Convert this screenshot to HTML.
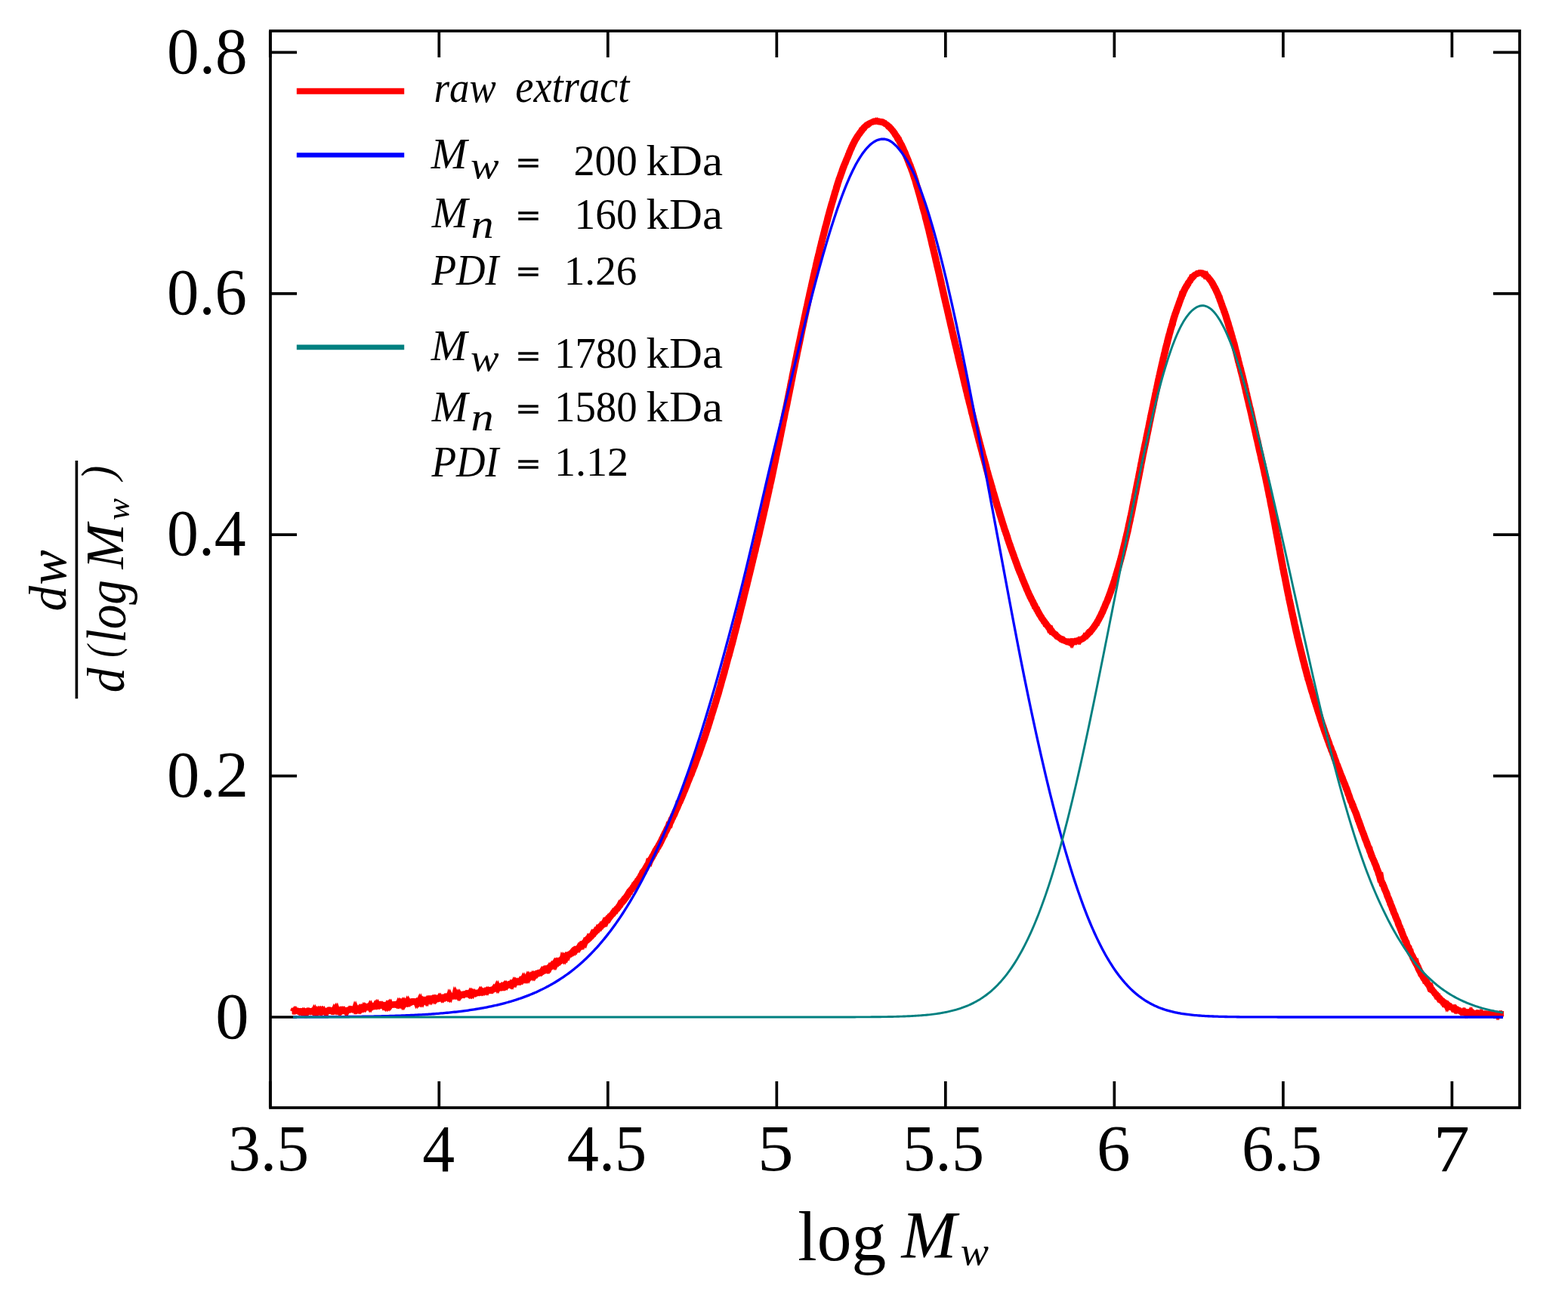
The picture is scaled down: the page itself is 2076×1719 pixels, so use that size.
<!DOCTYPE html>
<html lang="en">
<head>
<meta charset="utf-8">
<title>Molar mass distribution: raw extract</title>
<style>html,body{margin:0;padding:0;background:#fff;}body{width:2076px;height:1719px;overflow:hidden;}svg{display:block;}</style>
</head>
<body>
<svg width="2076" height="1719" viewBox="0 0 2076 1719" font-family="'Liberation Serif', serif" fill="#000">
<rect x="0" y="0" width="2076" height="1719" fill="#fff"/>
<g>
<g stroke="#000" stroke-width="3.7" fill="none" stroke-linecap="butt">
<path d="M357.78 1467.0V1432M357.78 41.0V76M581.3 1467.0V1432M581.3 41.0V76M804.81 1467.0V1432M804.81 41.0V76M1028.33 1467.0V1432M1028.33 41.0V76M1251.84 1467.0V1432M1251.84 41.0V76M1475.36 1467.0V1432M1475.36 41.0V76M1698.87 1467.0V1432M1698.87 41.0V76M1922.39 1467.0V1432M1922.39 41.0V76M358.0 1347H393M1977 1347H1989.5M358.0 1027.6H393M2012.0 1027.6H1977M358.0 708.2H393M2012.0 708.2H1977M358.0 388.8H393M2012.0 388.8H1977M358.0 69.4H393M2012.0 69.4H1977"/>
</g>
<rect x="358.0" y="41.0" width="1654.0" height="1426.0" fill="none" stroke="#000" stroke-width="3.7"/>
<path d="M386.5 1339.83 L387 1339.81 L387.5 1339.8 L388 1338.66 L388.5 1338.76 L389 1338.93 L389.5 1338.3 L390 1339.1 L390.5 1338.93 L391 1340.66 L391.5 1339.47 L392 1339.26 L392.5 1339.31 L393 1339.16 L393.5 1339.01 L394 1339.27 L394.5 1339.62 L395 1339.32 L395.5 1339.78 L396 1339.3 L396.5 1339.35 L397 1339.93 L397.5 1339.49 L398 1339.03 L398.5 1339.13 L399 1339.39 L399.5 1339.94 L400 1339.07 L400.5 1339.1 L401 1339.64 L401.5 1338.95 L402 1339.26 L402.5 1339.82 L403 1339.8 L403.5 1339.7 L404 1340.01 L404.5 1338.67 L405 1340.24 L405.5 1339.44 L406 1339.12 L406.5 1339.83 L407 1339.9 L407.5 1339.34 L408 1338.99 L408.5 1339.33 L409 1339.22 L409.5 1339.74 L410 1339.44 L410.5 1339.2 L411 1339.57 L411.5 1339.09 L412 1338.86 L412.5 1339.56 L413 1339.69 L413.5 1339.5 L414 1339.41 L414.5 1339.92 L415 1338.91 L415.5 1340.23 L416 1340.17 L416.5 1339.32 L417 1340 L417.5 1339.59 L418 1340.28 L418.5 1339.16 L419 1339.58 L419.5 1340.17 L420 1340.25 L420.5 1338.8 L421 1339.3 L421.5 1339.46 L422 1336.47 L422.5 1339.65 L423 1338.44 L423.5 1338.99 L424 1338.4 L424.5 1339.41 L425 1338.89 L425.5 1338.83 L426 1338.4 L426.5 1339.89 L427 1339.66 L427.5 1339.8 L428 1340.1 L428.5 1339.9 L429 1339.6 L429.5 1339.58 L430 1339.57 L430.5 1340.36 L431 1339.1 L431.5 1339.26 L432 1339.16 L432.5 1339.15 L433 1339.08 L433.5 1338.18 L434 1337.87 L434.5 1338.49 L435 1338.97 L435.5 1338.83 L436 1338.67 L436.5 1338.51 L437 1338.79 L437.5 1338.56 L438 1338.91 L438.5 1338.14 L439 1338.34 L439.5 1338.07 L440 1338.18 L440.5 1337.95 L441 1338.83 L441.5 1338.42 L442 1338.48 L442.5 1337.14 L443 1337.9 L443.5 1337.86 L444 1338.36 L444.5 1337.26 L445 1338.66 L445.5 1338.64 L446 1337.73 L446.5 1337.91 L447 1338.04 L447.5 1338.44 L448 1338.73 L448.5 1339.31 L449 1338.39 L449.5 1338.73 L450 1338.39 L450.5 1338.93 L451 1338.4 L451.5 1338.52 L452 1337.43 L452.5 1337.69 L453 1337.38 L453.5 1338.27 L454 1337.93 L454.5 1337.59 L455 1337.6 L455.5 1338.06 L456 1337.68 L456.5 1337.68 L457 1338.31 L457.5 1339.15 L458 1338.07 L458.5 1337.92 L459 1337.61 L459.5 1337.45 L460 1338.09 L460.5 1338.11 L461 1337.66 L461.5 1337.68 L462 1337.5 L462.5 1337.42 L463 1336.67 L463.5 1337.02 L464 1337.15 L464.5 1336.7 L465 1336.71 L465.5 1336.46 L466 1336.55 L466.5 1336.94 L467 1336.37 L467.5 1336.43 L468 1336.8 L468.5 1336.73 L469 1337.16 L469.5 1335.65 L470 1336.83 L470.5 1336.27 L471 1336.49 L471.5 1336.72 L472 1336.78 L472.5 1336.72 L473 1336.34 L473.5 1336.89 L474 1336.1 L474.5 1336.1 L475 1336.41 L475.5 1335.76 L476 1336.7 L476.5 1336.07 L477 1336.33 L477.5 1335.23 L478 1334.87 L478.5 1334.88 L479 1334.92 L479.5 1334.21 L480 1334.45 L480.5 1334.17 L481 1334.72 L481.5 1333.72 L482 1334.31 L482.5 1333.54 L483 1333.3 L483.5 1333.28 L484 1332.98 L484.5 1333.4 L485 1333.67 L485.5 1333.27 L486 1333.42 L486.5 1333.8 L487 1333.25 L487.5 1333.2 L488 1333 L488.5 1332.44 L489 1333.36 L489.5 1332.33 L490 1333.28 L490.5 1333.01 L491 1333.45 L491.5 1332.95 L492 1332.6 L492.5 1332.99 L493 1332.52 L493.5 1332.56 L494 1332.53 L494.5 1332.35 L495 1332.24 L495.5 1331.91 L496 1332.1 L496.5 1331.26 L497 1332 L497.5 1331.53 L498 1332.41 L498.5 1332.42 L499 1331.09 L499.5 1331.9 L500 1331.78 L500.5 1331.4 L501 1332.03 L501.5 1331.63 L502 1331.1 L502.5 1331.69 L503 1331.73 L503.5 1331.81 L504 1331.24 L504.5 1331.93 L505 1331.94 L505.5 1331.15 L506 1331.31 L506.5 1331.52 L507 1331.31 L507.5 1332.23 L508 1331.61 L508.5 1331.11 L509 1331.16 L509.5 1331.41 L510 1332.27 L510.5 1331.18 L511 1331.18 L511.5 1331.19 L512 1330.82 L512.5 1331.61 L513 1330.37 L513.5 1330.8 L514 1330.52 L514.5 1330.69 L515 1329.99 L515.5 1331.2 L516 1330.48 L516.5 1330.58 L517 1330.21 L517.5 1330.3 L518 1330.79 L518.5 1330.93 L519 1330.78 L519.5 1330.91 L520 1330.65 L520.5 1330.33 L521 1330.62 L521.5 1330.5 L522 1330.19 L522.5 1330.5 L523 1330.7 L523.5 1330.25 L524 1329.97 L524.5 1330.35 L525 1330.76 L525.5 1329.84 L526 1329.8 L526.5 1329.67 L527 1330.09 L527.5 1328.74 L528 1329.48 L528.5 1329.68 L529 1328.77 L529.5 1329.6 L530 1329.17 L530.5 1328.71 L531 1329.03 L531.5 1328.38 L532 1328.83 L532.5 1329.85 L533 1328.82 L533.5 1329.95 L534 1329.19 L534.5 1329.6 L535 1329.18 L535.5 1328.2 L536 1328.79 L536.5 1329.01 L537 1328.38 L537.5 1328.2 L538 1328.79 L538.5 1328.27 L539 1327.05 L539.5 1327.99 L540 1328.45 L540.5 1327.74 L541 1328.12 L541.5 1328.17 L542 1327.38 L542.5 1326.73 L543 1326.49 L543.5 1326.83 L544 1327.05 L544.5 1326.67 L545 1326.68 L545.5 1326.23 L546 1326.5 L546.5 1326.2 L547 1326.32 L547.5 1326.01 L548 1325.99 L548.5 1326.52 L549 1326.34 L549.5 1326.45 L550 1327.13 L550.5 1326.82 L551 1328.02 L551.5 1327.2 L552 1326.54 L552.5 1327.06 L553 1326.83 L553.5 1326.33 L554 1326.95 L554.5 1326.08 L555 1325.02 L555.5 1326.41 L556 1325.69 L556.5 1326.39 L557 1325.4 L557.5 1325.08 L558 1326.08 L558.5 1324.96 L559 1325.43 L559.5 1325.92 L560 1325.39 L560.5 1325.34 L561 1325.43 L561.5 1325.75 L562 1325.08 L562.5 1325.61 L563 1325.52 L563.5 1326.11 L564 1324.89 L564.5 1324.46 L565 1324.91 L565.5 1324.23 L566 1324.28 L566.5 1324 L567 1324.22 L567.5 1323.32 L568 1319.05 L568.5 1322.34 L569 1322.94 L569.5 1323.87 L570 1322.96 L570.5 1322.94 L571 1322.74 L571.5 1323.48 L572 1323.34 L572.5 1322.81 L573 1323.57 L573.5 1323.4 L574 1323.56 L574.5 1322.95 L575 1323.82 L575.5 1323.19 L576 1322.87 L576.5 1322.6 L577 1322.6 L577.5 1322.93 L578 1322.37 L578.5 1322.82 L579 1322.55 L579.5 1322.79 L580 1322.54 L580.5 1322.17 L581 1321.43 L581.5 1322.31 L582 1322.52 L582.5 1322.27 L583 1322.41 L583.5 1321.97 L584 1321.95 L584.5 1321.65 L585 1322.45 L585.5 1321.82 L586 1321.4 L586.5 1320.91 L587 1321.24 L587.5 1321.77 L588 1321.32 L588.5 1320.82 L589 1321.69 L589.5 1321.7 L590 1321.54 L590.5 1321.44 L591 1321.54 L591.5 1321.2 L592 1321.17 L592.5 1320.38 L593 1321.11 L593.5 1320.41 L594 1320.94 L594.5 1319.14 L595 1320.09 L595.5 1320.07 L596 1319.44 L596.5 1319.68 L597 1319.75 L597.5 1319.63 L598 1319.14 L598.5 1319.24 L599 1319.63 L599.5 1319.65 L600 1319.07 L600.5 1318.93 L601 1318.84 L601.5 1319.03 L602 1316.82 L602.5 1317.79 L603 1318.25 L603.5 1317.67 L604 1317.82 L604.5 1318.07 L605 1318.23 L605.5 1317.61 L606 1318.38 L606.5 1317.35 L607 1318.26 L607.5 1317.37 L608 1317.43 L608.5 1318.11 L609 1317.57 L609.5 1317.27 L610 1317.26 L610.5 1317.46 L611 1317.1 L611.5 1316.96 L612 1317.27 L612.5 1316.45 L613 1316.46 L613.5 1316.37 L614 1316.98 L614.5 1316.84 L615 1316.89 L615.5 1316.28 L616 1316.16 L616.5 1316.49 L617 1315.95 L617.5 1316.41 L618 1316.38 L618.5 1315.85 L619 1316.17 L619.5 1316.23 L620 1317.05 L620.5 1317.44 L621 1316.39 L621.5 1316.42 L622 1315.44 L622.5 1316.36 L623 1316.17 L623.5 1315.64 L624 1316.28 L624.5 1315.26 L625 1315.74 L625.5 1315.84 L626 1315.26 L626.5 1316.09 L627 1316.15 L627.5 1315.16 L628 1315.12 L628.5 1315.88 L629 1315.55 L629.5 1314.97 L630 1315.21 L630.5 1315.12 L631 1314.92 L631.5 1315.1 L632 1314.71 L632.5 1315.04 L633 1314.65 L633.5 1314.16 L634 1314.12 L634.5 1314.04 L635 1313.65 L635.5 1312.76 L636 1313.5 L636.5 1313.13 L637 1313.71 L637.5 1313.06 L638 1313.2 L638.5 1313.07 L639 1313.54 L639.5 1312.86 L640 1312.57 L640.5 1312.68 L641 1312.24 L641.5 1312.32 L642 1312.08 L642.5 1312 L643 1312.48 L643.5 1311.38 L644 1311.43 L644.5 1311.25 L645 1311.55 L645.5 1310.82 L646 1311.05 L646.5 1311.37 L647 1311.67 L647.5 1311.48 L648 1311.31 L648.5 1311.15 L649 1311.64 L649.5 1311.91 L650 1311.32 L650.5 1311.1 L651 1311.01 L651.5 1310.25 L652 1310.29 L652.5 1310.07 L653 1310.05 L653.5 1309.65 L654 1308.89 L654.5 1309.52 L655 1309.43 L655.5 1308.33 L656 1308.3 L656.5 1307.96 L657 1307.91 L657.5 1306.78 L658 1307.82 L658.5 1306.82 L659 1307.38 L659.5 1306.81 L660 1306.57 L660.5 1306.66 L661 1307.1 L661.5 1306.46 L662 1306.73 L662.5 1306.77 L663 1306.33 L663.5 1307.56 L664 1307.25 L664.5 1306.94 L665 1307.3 L665.5 1306.3 L666 1306.46 L666.5 1306.97 L667 1306.45 L667.5 1304.95 L668 1304.3 L668.5 1305.01 L669 1305.66 L669.5 1304.87 L670 1304.8 L670.5 1304.96 L671 1304.19 L671.5 1304.48 L672 1304.57 L672.5 1304.33 L673 1304.21 L673.5 1303.74 L674 1304.13 L674.5 1303.69 L675 1304.29 L675.5 1304.68 L676 1303.18 L676.5 1302.4 L677 1302.84 L677.5 1302.88 L678 1302.85 L678.5 1302.55 L679 1301.5 L679.5 1301.21 L680 1301.77 L680.5 1300.61 L681 1301.3 L681.5 1300.65 L682 1300.97 L682.5 1300.9 L683 1300.92 L683.5 1300.93 L684 1300.19 L684.5 1300.67 L685 1300.48 L685.5 1300.49 L686 1300.7 L686.5 1299.91 L687 1299.51 L687.5 1299.26 L688 1299.16 L688.5 1299.32 L689 1298.42 L689.5 1298.94 L690 1298.32 L690.5 1297.85 L691 1297.16 L691.5 1297.56 L692 1297.52 L692.5 1296.34 L693 1297.33 L693.5 1297.33 L694 1296.62 L694.5 1296.51 L695 1297.11 L695.5 1296.48 L696 1295.48 L696.5 1295.69 L697 1295.49 L697.5 1295.33 L698 1294.25 L698.5 1295.28 L699 1294.47 L699.5 1294.5 L700 1294.09 L700.5 1294.2 L701 1293.45 L701.5 1293 L702 1293.3 L702.5 1293.45 L703 1292.58 L703.5 1293.09 L704 1292.48 L704.5 1292.01 L705 1292.66 L705.5 1291.55 L706 1292.08 L706.5 1291.26 L707 1291.4 L707.5 1290.46 L708 1290.34 L708.5 1290.8 L709 1290.15 L709.5 1289.79 L710 1289.31 L710.5 1289.38 L711 1288.38 L711.5 1288.25 L712 1288.42 L712.5 1287.96 L713 1287.85 L713.5 1287.96 L714 1287.79 L714.5 1287.62 L715 1288.2 L715.5 1287.73 L716 1287.56 L716.5 1286.75 L717 1286.21 L717.5 1285.47 L718 1285.55 L718.5 1284.52 L719 1284.82 L719.5 1285.1 L720 1285.22 L720.5 1284.78 L721 1283.88 L721.5 1284.28 L722 1283.64 L722.5 1284.15 L723 1283.62 L723.5 1283.83 L724 1284.29 L724.5 1283.35 L725 1283.56 L725.5 1282.29 L726 1281.64 L726.5 1281.83 L727 1281.52 L727.5 1280.15 L728 1279.99 L728.5 1279 L729 1279.15 L729.5 1279.26 L730 1278.56 L730.5 1278.07 L731 1277.44 L731.5 1277.87 L732 1277.78 L732.5 1277.45 L733 1277.09 L733.5 1276.27 L734 1277.29 L734.5 1276.36 L735 1276.11 L735.5 1276.22 L736 1274.81 L736.5 1275.36 L737 1275.03 L737.5 1274.92 L738 1274.99 L738.5 1274.32 L739 1273.07 L739.5 1273.34 L740 1273.22 L740.5 1272.85 L741 1271.93 L741.5 1271.44 L742 1271.98 L742.5 1271.58 L743 1271.12 L743.5 1270.14 L744 1271.24 L744.5 1269.06 L745 1269.74 L745.5 1270.36 L746 1269.07 L746.5 1268.8 L747 1267.81 L747.5 1268.39 L748 1266.92 L748.5 1267.15 L749 1266.76 L749.5 1265.97 L750 1266.46 L750.5 1265.26 L751 1265.26 L751.5 1265.22 L752 1264.73 L752.5 1264.72 L753 1264.52 L753.5 1263.64 L754 1263.14 L754.5 1262.77 L755 1262.45 L755.5 1262.55 L756 1261.77 L756.5 1261.65 L757 1261.07 L757.5 1260.38 L758 1260.67 L758.5 1259.51 L759 1259.53 L759.5 1259.73 L760 1258.31 L760.5 1258.36 L761 1257.41 L761.5 1257.53 L762 1256.85 L762.5 1257.03 L763 1256.69 L763.5 1256.68 L764 1256.95 L764.5 1256.08 L765 1255.83 L765.5 1255.12 L766 1254.58 L766.5 1253.87 L767 1252.99 L767.5 1253.24 L768 1253.37 L768.5 1252.42 L769 1251.54 L769.5 1251.96 L770 1250.69 L770.5 1250.19 L771 1249.55 L771.5 1249.26 L772 1249.14 L772.5 1249.62 L773.01 1248.29 L773.51 1247.48 L774.01 1247.12 L774.52 1246.72 L775.02 1245.54 L775.52 1245.69 L776.03 1245.34 L776.53 1244.63 L777.04 1244.23 L777.54 1243 L778.05 1242.41 L778.55 1243.22 L779.06 1242.77 L779.57 1241.35 L780.07 1241.65 L780.58 1241.16 L781.09 1240.9 L781.59 1240.25 L782.1 1239.42 L782.61 1239.12 L783.12 1238.52 L783.63 1237.86 L784.14 1236.58 L784.65 1235.57 L785.16 1235.88 L785.67 1234.99 L786.18 1235.16 L786.69 1234.77 L787.2 1234.02 L787.71 1233.2 L788.22 1232.79 L788.73 1232.64 L789.24 1231.35 L789.75 1231.44 L790.26 1230.82 L790.78 1230.14 L791.29 1230.1 L791.8 1228.8 L792.31 1228.98 L792.83 1227.83 L793.34 1227.46 L793.85 1226.91 L794.37 1227.04 L794.88 1226.07 L795.4 1225.98 L795.91 1225.06 L796.42 1225.4 L796.94 1225.2 L797.45 1224.11 L797.97 1224.12 L798.48 1223.19 L799 1223.24 L799.51 1221.93 L800.03 1220.77 L800.54 1221.32 L801.06 1220.18 L801.57 1219.3 L802.09 1218.92 L802.61 1218.06 L803.12 1218.09 L803.64 1217.27 L804.15 1217.69 L804.67 1216.87 L805.19 1215.5 L805.7 1214.98 L806.22 1214.71 L806.74 1213.6 L807.25 1213.6 L807.77 1212.96 L808.29 1212.05 L808.8 1211.48 L809.32 1211.2 L809.84 1210.88 L810.36 1210.26 L810.87 1209.12 L811.39 1208.79 L811.91 1207.63 L812.42 1207.44 L812.94 1206.4 L813.46 1206.45 L813.98 1205.26 L814.49 1204.85 L815.01 1204.68 L815.53 1204.37 L816.04 1203.16 L816.56 1202.89 L817.08 1202.5 L817.6 1201.87 L818.11 1200.79 L818.63 1200.35 L819.15 1199.45 L819.67 1199.23 L820.18 1198.17 L820.7 1196.8 L821.22 1195.79 L821.73 1195.89 L822.25 1195.62 L822.77 1194.69 L823.28 1194.34 L823.8 1193.3 L824.32 1192.42 L824.83 1192.49 L825.35 1191.63 L825.87 1191.16 L826.38 1189.82 L826.9 1189.65 L827.42 1188.7 L827.93 1188.46 L828.45 1187.31 L828.96 1186.56 L829.48 1185.8 L829.99 1185.59 L830.51 1184.38 L831.03 1183.31 L831.54 1182.4 L832.06 1181.59 L832.57 1181.6 L833.09 1179.82 L833.6 1179.41 L834.11 1179.17 L834.63 1178.66 L835.14 1177.58 L835.66 1177.21 L836.17 1176.54 L836.68 1175.94 L837.2 1174.98 L837.71 1174.78 L838.22 1173.65 L838.74 1173.36 L839.25 1171.88 L839.76 1171.81 L840.27 1170.49 L840.79 1169.77 L841.3 1169.73 L841.81 1168.7 L842.32 1168.43 L842.83 1167.31 L843.34 1167.39 L843.85 1166.18 L844.36 1165.05 L844.87 1164.61 L845.38 1163.95 L845.89 1162.57 L846.4 1162.04 L846.91 1161.58 L847.42 1160.35 L847.93 1159.23 L848.44 1158.24 L848.95 1157.77 L849.45 1156.4 L849.96 1155.21 L850.47 1155.15 L850.98 1154.29 L851.48 1154.34 L851.99 1153.11 L852.49 1151.99 L853 1151.09 L853.51 1150.67 L854.01 1149.37 L854.52 1148.49 L855.02 1147.67 L855.53 1146.76 L856.03 1145.83 L856.54 1144.93 L857.04 1144.39 L857.55 1143.65 L858.05 1141.9 L858.56 1142.23 L859.07 1140.74 L859.57 1140.22 L860.08 1138.84 L860.58 1138.28 L861.09 1137.39 L861.59 1136.49 L862.1 1135.8 L862.6 1134.85 L863.11 1133.52 L863.61 1132.85 L864.12 1132.16 L864.62 1131.23 L865.13 1130.06 L865.63 1129.17 L866.14 1128.3 L866.64 1127.15 L867.15 1126.21 L867.66 1126.06 L868.16 1124.68 L868.67 1123.93 L869.17 1122.86 L869.68 1122.53 L870.18 1121.8 L870.69 1120.45 L871.19 1119.78 L871.7 1118.58 L872.2 1118.3 L872.71 1117.16 L873.21 1115.77 L873.72 1115.31 L874.22 1114.1 L874.73 1113.11 L875.23 1112.09 L875.74 1110.82 L876.24 1109.83 L876.74 1109.08 L877.25 1107.88 L877.75 1106.61 L878.26 1106.28 L878.76 1104.71 L879.27 1103.59 L879.77 1102.54 L880.28 1101.86 L880.78 1100.94 L881.29 1099.78 L881.79 1098.95 L882.3 1097.42 L882.8 1096.7 L883.3 1095.67 L883.81 1094.77 L884.31 1093.85 L884.82 1092.22 L885.32 1092.34 L885.83 1090.38 L886.33 1089.59 L886.83 1088.65 L887.34 1087.61 L887.84 1086.44 L888.35 1084.72 L888.85 1084.1 L889.35 1083.49 L889.86 1082.09 L890.36 1081.02 L890.87 1079.67 L891.37 1079.36 L891.87 1078.09 L892.38 1076.65 L892.88 1075.66 L893.38 1074.5 L893.89 1073.11 L894.39 1072.12 L894.89 1071.06 L895.4 1069.96 L895.9 1068.97 L896.4 1067.57 L896.91 1066.35 L897.41 1065.43 L897.91 1062.99 L898.42 1062.91 L898.92 1062.3 L899.42 1060.89 L899.93 1059.87 L900.43 1058.83 L900.93 1057.31 L901.43 1056.48 L901.94 1055.25 L902.44 1053.95 L902.94 1052.85 L903.45 1051.42 L903.95 1049.93 L904.45 1049.11 L904.95 1047.77 L905.46 1046.9 L905.96 1045.52 L906.46 1044.09 L906.96 1042.91 L907.46 1041.87 L907.97 1040.51 L908.47 1039.04 L908.97 1037.76 L909.47 1036.35 L909.97 1035.14 L910.48 1034.07 L910.98 1032.75 L911.48 1031.66 L911.98 1030.2 L912.48 1028.91 L912.98 1027.71 L913.49 1026.74 L913.99 1025.84 L914.49 1024.54 L914.99 1022.82 L915.49 1021.4 L915.99 1020.57 L916.49 1019.19 L916.99 1017.51 L917.49 1016.69 L918 1015.2 L918.5 1014.1 L919 1012.57 L919.5 1011.33 L920 1009.86 L920.5 1008.24 L921 1007.02 L921.5 1005.57 L922 1004.51 L922.5 1002.8 L923 1001.35 L923.5 1000.45 L924 999.2 L924.5 997.91 L925 996.47 L925.5 994.57 L925.99 993.34 L926.49 991.96 L926.99 990.64 L927.49 988.78 L927.98 987.77 L928.48 986.38 L928.98 984.69 L929.47 983.46 L929.97 982.24 L930.46 980.57 L930.96 979.34 L931.45 977.88 L931.94 976.31 L932.44 974.84 L932.93 973.21 L933.42 972.04 L933.92 970.18 L934.41 968.6 L934.9 967.34 L935.39 965.51 L935.88 964.18 L936.38 962.76 L936.87 961.02 L937.36 959.49 L937.85 958.11 L938.34 956.54 L938.83 954.53 L939.32 953.02 L939.81 951.98 L940.3 950.21 L940.79 948.13 L941.28 946.68 L941.77 945.36 L942.26 943.56 L942.74 942.25 L943.23 940.58 L943.72 939.08 L944.21 937.16 L944.7 935.94 L945.19 934.64 L945.67 932.51 L946.16 931.36 L946.65 929.72 L947.14 928.07 L947.63 926.34 L948.11 924.52 L948.6 922.95 L949.09 921.63 L949.58 920.01 L950.06 918.37 L950.55 916.61 L951.04 914.89 L951.53 912.91 L952.01 911.04 L952.5 909.6 L952.99 907.94 L953.47 906.14 L953.96 904.1 L954.45 902.57 L954.94 900.66 L955.42 899.26 L955.91 897.29 L956.4 895.73 L956.89 894.08 L957.37 892.27 L957.86 890.72 L958.35 888.41 L958.84 886.55 L959.33 885.11 L959.81 883.34 L960.3 881.49 L960.79 879.42 L961.28 877.66 L961.77 875.8 L962.26 873.78 L962.74 872.21 L963.23 870.72 L963.72 868.8 L964.21 867.58 L964.7 865.15 L965.19 863.6 L965.68 862.11 L966.17 859.94 L966.66 857.99 L967.15 856.1 L967.64 854.37 L968.13 852.96 L968.62 850.87 L969.12 849.02 L969.61 846.93 L970.1 845.3 L970.59 843.24 L971.08 841.11 L971.58 839.27 L972.07 837.47 L972.56 835.74 L973.06 833.58 L973.55 831.79 L974.04 830.19 L974.54 827.73 L975.03 825.74 L975.53 824.26 L976.02 822.21 L976.52 820.13 L977.02 818.2 L977.51 816.06 L978.01 814.19 L978.51 811.97 L979.01 810.17 L979.5 807.77 L980 805.85 L980.5 804.06 L981 801.98 L981.5 800.25 L982 798.12 L982.5 796.01 L983 794.13 L983.51 791.92 L984.01 789.63 L984.52 787.62 L985.02 785.57 L985.53 783.52 L986.03 781.52 L986.54 779.58 L987.05 777.41 L987.56 775.57 L988.07 773.39 L988.58 771.03 L989.09 769.32 L989.6 767.15 L990.11 764.75 L990.63 762.83 L991.14 760.91 L991.65 758.65 L992.17 756.71 L992.68 754.48 L993.2 752.43 L993.71 750.1 L994.23 748.1 L994.75 745.8 L995.26 743.85 L995.78 741.2 L996.3 739.43 L996.82 737.43 L997.34 735.11 L997.85 732.81 L998.37 730.75 L998.89 729.39 L999.41 726.16 L999.93 724.11 L1000.45 722.02 L1000.97 720.11 L1001.49 717.59 L1002.01 715.81 L1002.53 713.12 L1003.05 711.08 L1003.57 709.01 L1004.09 707.02 L1004.61 704.43 L1005.13 701.88 L1005.65 700.14 L1006.17 697.8 L1006.69 695.32 L1007.21 693.05 L1007.73 690.84 L1008.25 688.7 L1008.77 686.51 L1009.29 683.76 L1009.81 682.19 L1010.33 679.4 L1010.85 677.02 L1011.36 674.92 L1011.88 672.5 L1012.4 670.65 L1012.92 668.1 L1013.44 665.51 L1013.95 663.19 L1014.47 660.85 L1014.99 658.54 L1015.5 656.39 L1016.02 653.78 L1016.53 651.88 L1017.05 649.2 L1017.56 644.99 L1018.07 644.77 L1018.59 641.89 L1019.1 639.8 L1019.61 637.81 L1020.12 635.39 L1020.63 633.06 L1021.14 630.78 L1021.65 628.2 L1022.16 625.87 L1022.67 623.19 L1023.17 620.62 L1023.68 618.77 L1024.18 615.84 L1024.69 613.41 L1025.19 611.36 L1025.7 608.84 L1026.2 606.09 L1026.7 603.67 L1027.2 601.36 L1027.7 598.79 L1028.2 596.7 L1028.7 594.24 L1029.2 591.86 L1029.7 589.6 L1030.19 587.22 L1030.69 585.07 L1031.19 582.62 L1031.69 579.59 L1032.18 577.71 L1032.68 574.89 L1033.17 572.38 L1033.67 570.35 L1034.17 567.58 L1034.66 565.16 L1035.16 562.94 L1035.65 560.1 L1036.15 557.56 L1036.64 555.34 L1037.13 553.09 L1037.63 550.54 L1038.12 547.74 L1038.62 545.55 L1039.11 543.3 L1039.6 541.36 L1040.09 538.78 L1040.59 536.39 L1041.08 534.05 L1041.57 531.33 L1042.07 529.07 L1042.56 526.64 L1043.05 523.91 L1043.54 521.67 L1044.03 519.35 L1044.53 516.57 L1045.02 514.49 L1045.51 512.02 L1046 509.59 L1046.49 506.75 L1046.98 504.44 L1047.48 502.22 L1047.97 499.61 L1048.46 496.83 L1048.95 494.57 L1049.44 492.36 L1049.93 489.64 L1050.43 487.32 L1050.92 485.36 L1051.41 482.46 L1051.9 480.08 L1052.39 477.53 L1052.88 475.23 L1053.38 473.27 L1053.87 470.55 L1054.36 467.94 L1054.85 465.59 L1055.34 463.39 L1055.84 461.15 L1056.33 458.48 L1056.82 456.41 L1057.31 453.82 L1057.81 451.63 L1058.3 449.3 L1058.79 446.95 L1059.29 444.37 L1059.78 442.03 L1060.27 439.79 L1060.77 437.05 L1061.26 434.98 L1061.75 432.7 L1062.25 430.47 L1062.74 427.92 L1063.23 425.57 L1063.73 423.31 L1064.22 420.82 L1064.71 418.62 L1065.21 416.44 L1065.7 414.12 L1066.19 411.57 L1066.69 409.42 L1067.18 406.78 L1067.67 405.07 L1068.17 402.5 L1068.66 400.34 L1069.15 397.76 L1069.65 395.66 L1070.14 393.48 L1070.63 391.32 L1071.13 388.6 L1071.62 386.8 L1072.11 384.38 L1072.61 382.04 L1073.1 380.08 L1073.59 377.71 L1074.09 375.5 L1074.58 373.21 L1075.07 371.19 L1075.57 368.95 L1076.06 366.71 L1076.55 364.36 L1077.05 362.25 L1077.54 360.23 L1078.03 358.2 L1078.53 355.73 L1079.02 353.83 L1079.51 351.36 L1080.01 348.99 L1080.5 347.2 L1080.99 344.77 L1081.48 342.96 L1081.98 341.03 L1082.47 338.7 L1082.96 336.69 L1083.46 335.16 L1083.95 332.68 L1084.44 330.65 L1084.94 328.73 L1085.43 326.54 L1085.92 324.54 L1086.41 322.64 L1086.91 320.11 L1087.4 318.9 L1087.89 316.44 L1088.38 314.5 L1088.88 312.89 L1089.37 310.86 L1089.86 308.69 L1090.36 307.06 L1090.85 304.88 L1091.34 303.05 L1091.83 300.97 L1092.32 299.18 L1092.82 297.51 L1093.31 295.54 L1093.8 293.67 L1094.29 291.88 L1094.79 289.79 L1095.28 287.78 L1095.77 285.99 L1096.26 284.52 L1096.75 282.36 L1097.25 280.61 L1097.74 278.74 L1098.23 277.05 L1098.72 275.35 L1099.21 273.54 L1099.7 271.81 L1100.19 270 L1100.69 268.3 L1101.18 266.87 L1101.67 265.26 L1102.16 263.61 L1102.65 261.74 L1103.14 259.87 L1103.63 258.47 L1104.12 256.78 L1104.62 254.68 L1105.11 253.47 L1105.6 251.78 L1106.09 250.35 L1106.58 248.17 L1107.07 246.53 L1107.56 245.35 L1108.05 243.26 L1108.54 241.92 L1109.03 240.31 L1109.52 238.83 L1110.01 237.17 L1110.5 236.05 L1110.99 234.87 L1111.48 233.36 L1111.97 231.97 L1112.46 230.43 L1112.94 229.42 L1113.43 227.87 L1113.92 226.61 L1114.4 224.75 L1114.89 223.79 L1115.38 222.18 L1115.86 221.19 L1116.35 219.89 L1116.83 218.39 L1117.32 217.44 L1117.8 216.44 L1118.28 215.13 L1118.77 213.99 L1119.25 212.55 L1119.73 211.43 L1120.22 210.19 L1120.7 209.29 L1121.18 208.33 L1121.66 207.01 L1122.14 205.75 L1122.62 204.35 L1123.11 203.49 L1123.59 202.17 L1124.07 200.67 L1124.55 199.55 L1125.03 198.68 L1125.51 197.43 L1125.99 196.82 L1126.47 195.39 L1126.95 194.09 L1127.43 193.13 L1127.91 192.5 L1128.39 190.97 L1128.87 190.32 L1129.35 189.28 L1129.83 188.54 L1130.31 187.43 L1130.79 186.34 L1131.27 185.64 L1131.75 184.7 L1132.22 184.04 L1132.7 183.03 L1133.18 182.66 L1133.66 181.5 L1134.14 180.88 L1134.62 179.96 L1135.1 179.43 L1135.58 178.74 L1136.06 178.1 L1136.55 177.57 L1137.03 176.62 L1137.51 175.88 L1137.99 175.59 L1138.47 174.64 L1138.95 173.91 L1139.43 173.64 L1139.91 172.94 L1140.39 171.66 L1140.88 171.51 L1141.36 171.16 L1141.84 170.58 L1142.33 169.73 L1142.81 169.57 L1143.29 168.54 L1143.78 168.12 L1144.26 167.7 L1144.75 167.21 L1145.23 166.94 L1145.72 166.59 L1146.2 166 L1146.69 165.92 L1147.17 165.16 L1147.66 164.91 L1148.15 164.96 L1148.64 164.32 L1149.12 164.19 L1149.61 163.59 L1150.1 163.33 L1150.59 163.08 L1151.08 162.86 L1151.57 162.5 L1152.06 162.33 L1152.55 162.24 L1153.05 162.13 L1153.54 161.72 L1154.03 161.66 L1154.53 161.55 L1155.02 161.02 L1155.52 160.79 L1156.01 161.31 L1156.51 161.14 L1157.01 160.78 L1157.5 160.74 L1158 160.38 L1158.5 160.21 L1159 160.48 L1159.5 160.08 L1160 160.56 L1160.5 160.28 L1161 160.55 L1161.5 160.97 L1162 161.08 L1162.5 160.77 L1163 161.15 L1163.5 160.82 L1164 160.98 L1164.5 161.23 L1165 161.47 L1165.5 161.13 L1166 161.41 L1166.5 161.4 L1167 161.25 L1167.5 161.63 L1168 162.15 L1168.5 162.06 L1169 162.45 L1169.5 162.82 L1170 162.83 L1170.5 163.57 L1171 163.98 L1171.5 164.36 L1172 164.67 L1172.5 164.69 L1173 165.05 L1173.5 165.41 L1174 165.81 L1174.5 166.27 L1175 167.08 L1175.5 167.66 L1176 167.73 L1176.5 168.52 L1177 168.62 L1177.5 169.32 L1178 169.7 L1178.5 170.11 L1179 170.99 L1179.5 171.56 L1180 172.05 L1180.5 172.63 L1181 173.16 L1181.5 173.98 L1182 174.54 L1182.5 175.38 L1183 175.79 L1183.5 176.78 L1184 177.57 L1184.5 178.46 L1185 179.19 L1185.5 179.79 L1186 180.41 L1186.5 180.99 L1187 182.18 L1187.5 183.3 L1188 184.2 L1188.5 184.23 L1189 185.47 L1189.5 186.45 L1190 187.23 L1190.5 188.4 L1191 189.32 L1191.5 190.17 L1192 191.24 L1192.5 191.93 L1193 193.08 L1193.5 194.13 L1194 195.54 L1194.5 196.1 L1195 197.46 L1195.5 198.75 L1196 199.68 L1196.5 200.97 L1197 201.81 L1197.5 203.18 L1198 204.46 L1198.5 205.92 L1199 206.84 L1199.5 208.21 L1200 209.17 L1200.5 210.43 L1201 211.96 L1201.5 213.01 L1202 214.42 L1202.5 215.52 L1203 217.06 L1203.5 218.39 L1204 219.03 L1204.5 220.87 L1205 221.91 L1205.5 223.26 L1206 224.52 L1206.5 226.08 L1207 227.14 L1207.5 228.67 L1208 230.14 L1208.5 231.84 L1209 233.49 L1209.5 234.99 L1210 236.48 L1210.5 237.87 L1211 239.26 L1211.5 241.34 L1212 242.96 L1212.5 244.85 L1213 246.63 L1213.5 248.04 L1214 249.78 L1214.5 251.11 L1215 253.44 L1215.5 255.07 L1216 256.7 L1216.5 258.69 L1217 260.18 L1217.5 262.06 L1218 264.36 L1218.5 265.92 L1219 267.76 L1219.5 269.54 L1220 271.35 L1220.5 273.09 L1221 275.34 L1221.5 276.71 L1222 278.73 L1222.5 280.39 L1223 282.24 L1223.5 283.71 L1224 285.71 L1224.5 288.32 L1225 290.24 L1225.5 291.8 L1226 293.83 L1226.5 295.93 L1227 297.58 L1227.5 300.13 L1228 301.57 L1228.5 303.66 L1229 305.3 L1229.5 308.23 L1230 310.02 L1230.5 312.43 L1231 314.02 L1231.5 316.39 L1232 318.45 L1232.5 320.59 L1233 323.07 L1233.5 325.21 L1234 327.13 L1234.5 328.87 L1235 331.23 L1235.5 333.43 L1236 335.38 L1236.5 337.51 L1237 339.63 L1237.5 341.51 L1238 343.91 L1238.5 346.36 L1239 348.03 L1239.5 350.44 L1240 352.78 L1240.5 354.52 L1241 356.93 L1241.5 358.78 L1242 361.14 L1242.5 363.12 L1243 365.37 L1243.5 367.61 L1244 369.84 L1244.5 372.06 L1245 373.86 L1245.5 376.92 L1246 378.81 L1246.5 380.91 L1247 383.26 L1247.5 385.68 L1248 387.62 L1248.5 389.92 L1249 392.06 L1249.5 394.4 L1250 396.27 L1250.5 398.63 L1251 400.74 L1251.5 402.78 L1252 405.2 L1252.5 407.1 L1253 409 L1253.5 411.43 L1254 413.53 L1254.5 415.63 L1255 417.83 L1255.5 420.41 L1256 422.16 L1256.5 424.41 L1257 426.48 L1257.5 429.01 L1258 430.96 L1258.5 433 L1259 435.1 L1259.5 437.6 L1260 439.79 L1260.5 441.45 L1261 443.75 L1261.5 446.15 L1262 448.35 L1262.5 450.01 L1263 452.31 L1263.5 454.66 L1264 456.48 L1264.5 458.58 L1265 460.64 L1265.5 462.57 L1266 464.93 L1266.5 467.08 L1267 468.85 L1267.5 471.28 L1268 473.62 L1268.5 475.59 L1269 477.87 L1269.5 479.69 L1270 482.17 L1270.5 483.81 L1271 486.4 L1271.5 487.98 L1272 489.97 L1272.5 491.97 L1273 494.13 L1273.5 496.19 L1274 498.26 L1274.5 500.45 L1275 502.79 L1275.5 504.98 L1276 506.88 L1276.5 509.32 L1277 510.98 L1277.5 513.05 L1278 515.09 L1278.5 517.46 L1279 519.04 L1279.5 521.07 L1280 523.6 L1280.5 525.69 L1281 527.62 L1281.5 529.06 L1282 531.38 L1282.5 533.56 L1283 535.43 L1283.5 537.1 L1284 539.37 L1284.5 541.12 L1285 543.23 L1285.5 545.93 L1286 547.64 L1286.5 549.22 L1287 551.2 L1287.5 553.56 L1288 555.31 L1288.5 557.49 L1289 559.19 L1289.5 561.23 L1290 563.27 L1290.5 564.97 L1291 566.76 L1291.5 568.86 L1292 570.9 L1292.5 572.94 L1293 574.89 L1293.5 576.79 L1294 578.8 L1294.5 580.4 L1295 582.74 L1295.5 584.74 L1296 586.29 L1296.5 588.15 L1297 590.26 L1297.5 592.05 L1298 593.87 L1298.5 595.7 L1299 597.49 L1299.5 599.29 L1300 601.54 L1300.5 603.51 L1301 604.91 L1301.5 606.96 L1302 608.86 L1302.5 610.57 L1303 612.35 L1303.5 614.26 L1304 615.79 L1304.5 618.01 L1305 619.8 L1305.5 622.12 L1306 623.71 L1306.5 625.28 L1307 627.15 L1307.5 629.29 L1308 631.04 L1308.5 632.51 L1309 634.18 L1309.5 635.64 L1310 637.57 L1310.5 639.3 L1311 640.9 L1311.5 643.1 L1312 644.1 L1312.5 646.18 L1313 648.03 L1313.5 649.78 L1314 651.78 L1314.5 652.91 L1315 654.77 L1315.5 656.66 L1316 658.37 L1316.5 659.97 L1317 661.59 L1317.5 663.64 L1318 664.9 L1318.5 666.68 L1319 668.76 L1319.5 670.5 L1320 671.99 L1320.5 673.29 L1321 674.93 L1321.5 676.55 L1322 678.12 L1322.5 679.88 L1323 681.83 L1323.5 683.24 L1324 684.67 L1324.5 686.3 L1325 687.85 L1325.5 689.97 L1326 690.95 L1326.5 693.02 L1327 694.26 L1327.5 695.89 L1328 697.33 L1328.5 699.32 L1329 700.59 L1329.5 702.62 L1330 703.32 L1330.5 704.78 L1331 706.61 L1331.5 708.11 L1332 709.47 L1332.5 710.66 L1333 712.89 L1333.5 714.25 L1334 715.74 L1334.5 717.05 L1335 718.79 L1335.5 720.02 L1336 721.59 L1336.5 722.97 L1337 724.67 L1337.5 725.73 L1338 727.14 L1338.5 728.82 L1339 730.03 L1339.5 731.36 L1340 732.7 L1340.5 734.32 L1341 735.4 L1341.5 737.02 L1342 738.74 L1342.5 739.83 L1343 741.02 L1343.5 742.36 L1344 744.05 L1344.5 745.19 L1345 746.51 L1345.5 748.05 L1346 749.34 L1346.5 751.06 L1347 751.89 L1347.5 753.77 L1348 754.56 L1348.5 755.97 L1349 757.32 L1349.5 758.47 L1350 759.81 L1350.5 760.71 L1351 761.71 L1351.5 763.38 L1352 764.34 L1352.5 765.82 L1353 767.37 L1353.5 768.37 L1354 769.52 L1354.5 770.61 L1355 771.98 L1355.5 773.19 L1356 774.1 L1356.5 775.66 L1357 776.57 L1357.5 778 L1358 779.19 L1358.5 780.48 L1359 781.59 L1359.5 782.55 L1360 783.65 L1360.5 784.89 L1361 786.19 L1361.5 787.24 L1362 788.16 L1362.5 789.28 L1363 790.6 L1363.5 790.99 L1364 792.45 L1364.5 793.15 L1365 794.59 L1365.5 795.21 L1366 796.27 L1366.5 797.07 L1367 798.28 L1367.5 799.42 L1368 800.57 L1368.5 800.95 L1369 802.05 L1369.5 803.85 L1370 804.17 L1370.5 804.88 L1371 805.89 L1371.5 806.16 L1372 807.95 L1372.5 808.59 L1373 809.21 L1373.5 810.66 L1374 811.23 L1374.5 812.06 L1375 813.26 L1375.5 814.1 L1376 814.77 L1376.5 815.68 L1377 816.23 L1377.5 816.99 L1378 818.23 L1378.5 819.06 L1379 819.62 L1379.5 820.33 L1380 820.89 L1380.5 821.64 L1381 822.18 L1381.5 823.45 L1382 823.66 L1382.5 824.57 L1383 825.17 L1383.5 825.55 L1384 826.94 L1384.5 827.09 L1385 827.64 L1385.5 828.47 L1386 828.89 L1386.5 829.75 L1387 830.2 L1387.5 831.23 L1388 831.82 L1388.5 832.19 L1389 833.45 L1389.5 833.11 L1390 834.28 L1390.5 835.24 L1391 835.83 L1391.5 836.69 L1392 836.52 L1392.5 837.38 L1393 837.58 L1393.5 838.17 L1394 838.37 L1394.5 838.86 L1395 839.45 L1395.5 839.48 L1396 839.72 L1396.5 840.74 L1397 841.1 L1397.5 841.7 L1398 842.27 L1398.5 842.45 L1399 843.21 L1399.5 843.26 L1400 843.66 L1400.5 844.23 L1401 844.54 L1401.5 844.73 L1402 845.16 L1402.5 845.26 L1403 845.62 L1403.5 846.12 L1404 846.58 L1404.5 846.46 L1405 847.04 L1405.5 847.57 L1406 847.84 L1406.5 847.44 L1407 847.98 L1407.5 848.1 L1408 848.42 L1408.5 848.71 L1409 848.89 L1409.5 849.26 L1410 849.33 L1410.5 849.42 L1411 849.76 L1411.5 849.97 L1412 850.29 L1412.5 850.07 L1413 850.21 L1413.5 850.42 L1414 849.69 L1414.5 849.92 L1415 850.23 L1415.5 850.14 L1416 849.9 L1416.5 850.62 L1417 850.35 L1417.5 850.1 L1418 851.01 L1418.5 849.99 L1419 850.31 L1419.5 850.02 L1420 850.14 L1420.51 850.14 L1421.01 849.6 L1421.52 849.69 L1422.03 849.57 L1422.54 849.22 L1423.05 849.77 L1423.56 849.4 L1424.07 849.19 L1424.59 848.98 L1425.1 848.96 L1425.62 848.95 L1426.14 848.62 L1426.66 848.91 L1427.18 847.65 L1427.7 847.55 L1428.22 847.85 L1428.74 847.18 L1429.26 847.42 L1429.78 847.01 L1430.3 847.08 L1430.83 846.75 L1431.35 846.69 L1431.88 846.28 L1432.4 846.06 L1432.93 845.54 L1433.45 845.34 L1433.98 844.83 L1434.5 844.17 L1435.02 843.58 L1435.55 843.16 L1436.07 843.12 L1436.6 841.94 L1437.12 842.09 L1437.65 841.38 L1438.17 841.26 L1438.7 840.63 L1439.22 839.9 L1439.74 839.55 L1440.26 838.48 L1440.78 838.52 L1441.3 838 L1441.82 836.91 L1442.34 836.94 L1442.86 836.13 L1443.38 835.59 L1443.9 834.62 L1444.41 834.43 L1444.93 833.76 L1445.44 832.95 L1445.95 832.05 L1446.46 831.71 L1446.97 831.1 L1447.48 830.2 L1447.99 829.6 L1448.49 828.55 L1449 827.98 L1449.5 827.29 L1450 826.49 L1450.5 826.26 L1451 824.98 L1451.5 823.97 L1452 823.41 L1452.5 822.17 L1453 821.58 L1453.5 820.77 L1453.99 819.62 L1454.49 818.72 L1454.99 817.65 L1455.49 816.9 L1455.99 815.74 L1456.49 815.2 L1456.98 813.94 L1457.48 812.7 L1457.98 811.37 L1458.48 810.96 L1458.97 809.69 L1459.47 808.39 L1459.97 807.2 L1460.47 806.05 L1460.96 804.77 L1461.46 804.11 L1461.96 802.64 L1462.45 801.17 L1462.95 800.18 L1463.44 798.63 L1463.94 798.08 L1464.44 796.88 L1464.93 795.84 L1465.43 794.64 L1465.92 792.78 L1466.42 791.74 L1466.92 790.55 L1467.41 789.21 L1467.91 787.63 L1468.4 786.56 L1468.9 785.14 L1469.39 783.93 L1469.89 782.25 L1470.38 780.79 L1470.88 779.31 L1471.37 777.89 L1471.87 776.37 L1472.36 775 L1472.85 773.71 L1473.35 772.22 L1473.84 770.91 L1474.34 769.35 L1474.83 767.73 L1475.33 765.83 L1475.82 764.61 L1476.31 763.15 L1476.81 761.07 L1477.3 759.5 L1477.8 757.91 L1478.29 756.25 L1478.78 754.74 L1479.28 752.91 L1479.77 751.46 L1480.26 749.4 L1480.76 747.85 L1481.25 746 L1481.75 744.12 L1482.24 742.73 L1482.73 740.71 L1483.23 738.98 L1483.72 736.95 L1484.21 735.27 L1484.71 733.34 L1485.2 731.24 L1485.69 728.95 L1486.19 727.49 L1486.68 725.47 L1487.17 723.37 L1487.67 721.38 L1488.16 719.35 L1488.65 717.34 L1489.15 715.07 L1489.64 713.21 L1490.13 711.21 L1490.63 708.92 L1491.12 706.72 L1491.61 705.13 L1492.11 702.69 L1492.6 700.29 L1493.09 698.01 L1493.59 695.32 L1494.08 693.29 L1494.57 691.22 L1495.06 689.22 L1495.55 686.22 L1496.04 684.14 L1496.54 682.3 L1497.03 679.66 L1497.52 677.21 L1498.01 674.94 L1498.49 672.24 L1498.98 669.78 L1499.47 667.51 L1499.96 665.08 L1500.45 662.24 L1500.94 660.3 L1501.42 657.2 L1501.91 654.96 L1502.4 653.27 L1502.89 650.1 L1503.37 647.88 L1503.86 645.08 L1504.34 642.75 L1504.83 640.19 L1505.32 637.78 L1505.8 635.51 L1506.29 633.25 L1506.77 630.6 L1507.26 628.25 L1507.74 625.35 L1508.23 623.25 L1508.71 620.57 L1509.2 618.22 L1509.68 615.36 L1510.16 612.91 L1510.65 610.75 L1511.13 608.14 L1511.62 605.6 L1512.1 603.04 L1512.58 600.79 L1513.07 598.56 L1513.55 596.29 L1514.03 593.74 L1514.52 591.5 L1515 589.38 L1515.49 586.78 L1515.97 584.89 L1516.45 582.38 L1516.93 580.01 L1517.42 577.19 L1517.9 574.97 L1518.38 572.69 L1518.87 570.39 L1519.35 567.9 L1519.83 565.8 L1520.32 563.37 L1520.8 560.91 L1521.29 558.17 L1521.77 556.49 L1522.25 553.79 L1522.74 551.62 L1523.22 549.03 L1523.7 546.84 L1524.19 544.67 L1524.67 542.27 L1525.16 540.11 L1525.64 537.57 L1526.13 535.69 L1526.61 532.58 L1527.09 530.51 L1527.58 528.48 L1528.07 525.89 L1528.55 523.5 L1529.04 520.9 L1529.52 519.16 L1530.01 516.21 L1530.49 514.37 L1530.98 511.99 L1531.47 509.81 L1531.95 507.63 L1532.44 504.92 L1532.93 502.64 L1533.42 500.51 L1533.9 498.02 L1534.39 496.35 L1534.88 493.93 L1535.37 491.88 L1535.86 489.46 L1536.35 487.53 L1536.84 485.25 L1537.33 483.21 L1537.82 480.85 L1538.31 479.12 L1538.8 476.63 L1539.29 474.11 L1539.78 472.63 L1540.27 470.33 L1540.76 468.12 L1541.26 466.74 L1541.75 464.19 L1542.24 461.91 L1542.74 460.06 L1543.23 458.26 L1543.73 456.16 L1544.22 454.47 L1544.72 452.47 L1545.21 450.14 L1545.71 448.36 L1546.21 446.57 L1546.71 444.47 L1547.2 442.61 L1547.7 441.05 L1548.2 439.16 L1548.7 437.01 L1549.2 435.4 L1549.7 433.65 L1550.2 431.93 L1550.7 430.03 L1551.21 429.47 L1551.71 426.45 L1552.22 424.69 L1552.72 423.23 L1553.23 421.05 L1553.73 419.65 L1554.24 418.38 L1554.75 416.42 L1555.25 415 L1555.76 413.9 L1556.27 412.31 L1556.78 410.79 L1557.29 409.4 L1557.8 407.79 L1558.31 406.55 L1558.82 405.01 L1559.33 404.12 L1559.85 402.29 L1560.36 400.68 L1560.87 399.33 L1561.38 397.95 L1561.9 396.29 L1562.41 395.05 L1562.92 394.18 L1563.44 392.27 L1563.95 391.13 L1564.47 388.97 L1564.98 388.99 L1565.5 387.24 L1566.01 386.55 L1566.53 385.04 L1567.04 384.35 L1567.56 383.08 L1568.07 381.93 L1568.59 381.19 L1569.1 380.25 L1569.62 379.1 L1570.13 378.83 L1570.65 377.48 L1571.16 376.94 L1571.68 376.32 L1572.19 374.71 L1572.71 374.04 L1573.22 373.45 L1573.74 372.83 L1574.25 372.28 L1574.77 371.19 L1575.28 370.38 L1575.79 369.48 L1576.31 369.02 L1576.82 368.42 L1577.33 367.29 L1577.85 367.39 L1578.36 366.8 L1578.87 366.5 L1579.38 365.38 L1579.89 365.13 L1580.4 364.71 L1580.91 364.06 L1581.42 363.81 L1581.93 363.45 L1582.44 363.44 L1582.95 363.13 L1583.46 363.05 L1583.96 362.45 L1584.47 362.04 L1584.98 362.22 L1585.48 362.04 L1585.99 361.96 L1586.49 361.96 L1586.99 361.5 L1587.5 361.7 L1588 361.28 L1588.5 361.47 L1589 361.56 L1589.5 361.42 L1590 361.55 L1590.5 361.34 L1591 361.65 L1591.49 362.03 L1591.99 362.02 L1592.49 362.39 L1592.98 363.38 L1593.48 363.29 L1593.97 363.44 L1594.47 363.76 L1594.96 364.61 L1595.46 364.14 L1595.95 365.02 L1596.44 365.61 L1596.94 365.8 L1597.43 366.47 L1597.92 366.63 L1598.41 367.35 L1598.9 367.89 L1599.39 368.45 L1599.89 369.06 L1600.38 369.65 L1600.87 370.51 L1601.36 370.9 L1601.85 371.53 L1602.34 372.31 L1602.83 373.05 L1603.32 373.58 L1603.81 374.28 L1604.29 375.6 L1604.78 376.33 L1605.27 376.96 L1605.76 377.85 L1606.25 379.37 L1606.74 379.92 L1607.23 380.58 L1607.72 381.45 L1608.2 382.84 L1608.69 383.41 L1609.18 384.84 L1609.67 385.76 L1610.16 386.98 L1610.65 387.65 L1611.14 389.1 L1611.63 389.72 L1612.11 391.25 L1612.6 392.74 L1613.09 393.05 L1613.58 394.74 L1614.07 396.57 L1614.56 397.87 L1615.05 399.11 L1615.54 400.33 L1616.03 401.76 L1616.52 403.05 L1617.01 404.68 L1617.5 405.91 L1617.99 407.35 L1618.49 408.6 L1618.98 409.54 L1619.47 411.19 L1619.96 412.98 L1620.46 413.76 L1620.95 415.5 L1621.44 416.78 L1621.94 418.29 L1622.43 420.06 L1622.93 421.77 L1623.42 423.33 L1623.92 424.87 L1624.41 426.6 L1624.91 427.72 L1625.41 429.88 L1625.9 431.47 L1626.4 433.04 L1626.9 434.77 L1627.4 436.29 L1627.9 438.39 L1628.4 439.69 L1628.9 441.24 L1629.4 443.24 L1629.9 444.83 L1630.4 446.66 L1630.9 448.7 L1631.41 450.11 L1631.91 451.91 L1632.41 454.9 L1632.91 455.16 L1633.41 457.34 L1633.92 459.37 L1634.42 461.35 L1634.92 463.46 L1635.43 464.89 L1635.93 467.18 L1636.43 469.1 L1636.94 471.1 L1637.44 473.1 L1637.94 474.98 L1638.45 477.34 L1638.95 479.4 L1639.46 480.99 L1639.96 483.29 L1640.47 484.95 L1640.97 486.79 L1641.48 488.4 L1641.98 491.1 L1642.49 492.98 L1643 494.75 L1643.5 496.73 L1644.01 498.56 L1644.51 500.96 L1645.02 502.9 L1645.53 505.1 L1646.03 507.14 L1646.54 508.94 L1647.05 511.05 L1647.56 513.6 L1648.06 515.34 L1648.57 517.91 L1649.08 520.22 L1649.59 521.96 L1650.09 524.53 L1650.6 526.58 L1651.11 528.83 L1651.62 530.74 L1652.13 532.99 L1652.64 535.2 L1653.14 537.6 L1653.65 539.5 L1654.16 541.6 L1654.67 543.4 L1655.18 545.93 L1655.69 547.94 L1656.2 550.31 L1656.71 552.64 L1657.22 555.06 L1657.73 557.26 L1658.24 559.45 L1658.75 561.67 L1659.26 564.22 L1659.77 566.02 L1660.28 568.47 L1660.79 571 L1661.3 572.94 L1661.81 575.41 L1662.32 577.68 L1662.83 580.17 L1663.34 582.26 L1663.85 583.97 L1664.36 586.57 L1664.87 588.9 L1665.38 591.28 L1665.9 593.47 L1666.41 596.06 L1666.92 598.2 L1667.43 600.03 L1667.94 602.44 L1668.45 604.45 L1668.96 607.5 L1669.47 609.4 L1669.99 611.66 L1670.5 613.62 L1671.01 616.1 L1671.52 618.54 L1672.03 620.64 L1672.54 622.94 L1673.05 625.23 L1673.57 628.11 L1674.08 629.99 L1674.59 632.23 L1675.1 634.86 L1675.61 637.34 L1676.12 639.85 L1676.64 642.27 L1677.15 644.55 L1677.66 647.19 L1678.17 649.76 L1678.68 651.87 L1679.2 655.05 L1679.71 657.51 L1680.22 659.34 L1680.73 662.21 L1681.24 665.1 L1681.75 667.79 L1682.27 670.52 L1682.78 672.44 L1683.29 675.25 L1683.8 678.04 L1684.31 680.95 L1684.82 683.31 L1685.34 686.34 L1685.85 689.07 L1686.36 691.86 L1686.87 694.2 L1687.38 697.24 L1687.89 699.96 L1688.41 702.59 L1688.92 705.67 L1689.43 708.08 L1689.94 711.15 L1690.45 713.47 L1690.96 716.67 L1691.47 719.4 L1691.98 721.66 L1692.5 724.67 L1693.01 727.46 L1693.52 729.99 L1694.03 733.14 L1694.54 735.87 L1695.05 738.31 L1695.56 741.22 L1696.07 744.06 L1696.58 746.5 L1697.09 749.02 L1697.6 752.7 L1698.11 754.18 L1698.62 757.04 L1699.13 759.77 L1699.64 762.27 L1700.15 764.3 L1700.66 767.17 L1701.17 769.77 L1701.68 772.33 L1702.19 775.08 L1702.7 777.65 L1703.21 780.14 L1703.72 782.73 L1704.23 785.42 L1704.74 787.99 L1705.25 789.85 L1705.76 793.16 L1706.27 795.06 L1706.77 797.77 L1707.28 799.71 L1707.79 802.34 L1708.3 804.57 L1708.81 807.41 L1709.32 809.72 L1709.82 811.88 L1710.33 814.17 L1710.84 816.6 L1711.35 818.66 L1711.85 821.05 L1712.36 823.34 L1712.87 825.97 L1713.37 828.11 L1713.88 830.12 L1714.39 832.71 L1714.89 834.98 L1715.4 837.37 L1715.91 839.18 L1716.41 841.56 L1716.92 844.08 L1717.42 845.76 L1717.93 847.9 L1718.43 850.21 L1718.94 852.11 L1719.44 854.3 L1719.95 856.25 L1720.45 858.23 L1720.96 860.58 L1721.46 862.32 L1721.96 864.18 L1722.47 866.31 L1722.97 868.33 L1723.48 870.42 L1723.98 872.56 L1724.48 874.74 L1724.98 876.14 L1725.49 878.34 L1725.99 880 L1726.49 882.37 L1726.99 884.36 L1727.49 886.02 L1728 887.83 L1728.5 889.64 L1729 891.35 L1729.5 893.57 L1730 895.62 L1730.5 896.77 L1731 899.52 L1731.5 900.5 L1732 901.98 L1732.5 904.09 L1732.99 905.82 L1733.49 907.43 L1733.99 908.98 L1734.48 911.04 L1734.98 912.32 L1735.47 914.19 L1735.96 915.87 L1736.46 917.23 L1736.95 918.69 L1737.44 920.35 L1737.93 922.24 L1738.42 923.98 L1738.91 925.12 L1739.4 926.89 L1739.89 928.89 L1740.38 929.75 L1740.87 931.74 L1741.35 933.25 L1741.84 934.87 L1742.33 935.95 L1742.81 937.87 L1743.3 939.07 L1743.79 941.18 L1744.27 942.28 L1744.75 944.06 L1745.24 945.34 L1745.72 947.02 L1746.21 948.16 L1746.69 950.01 L1747.17 951.54 L1747.65 952.87 L1748.14 954.66 L1748.62 955.87 L1749.1 957.41 L1749.58 958.81 L1750.06 960.54 L1750.55 961.46 L1751.03 962.97 L1751.51 964.4 L1751.99 965.98 L1752.47 967.3 L1752.95 968.8 L1753.43 970.06 L1753.91 971.24 L1754.39 972.7 L1754.87 974.16 L1755.35 974.93 L1755.83 977.08 L1756.31 978.01 L1756.79 979.4 L1757.27 980.86 L1757.75 982.06 L1758.23 983.09 L1758.71 984.64 L1759.19 986.27 L1759.67 987.46 L1760.15 988.78 L1760.63 989.64 L1761.11 990.98 L1761.59 992.53 L1762.07 993.88 L1762.56 994.8 L1763.04 995.81 L1763.52 996.83 L1764 998.85 L1764.48 999.42 L1764.96 1001.16 L1765.44 1002.57 L1765.92 1004.47 L1766.4 1005.09 L1766.88 1006.37 L1767.35 1007.86 L1767.83 1009.21 L1768.3 1010.71 L1768.78 1011.83 L1769.25 1012.72 L1769.72 1013.61 L1770.2 1015.42 L1770.67 1016.39 L1771.14 1018.13 L1771.61 1018.67 L1772.08 1020.29 L1772.55 1021.28 L1773.02 1022.47 L1773.49 1024.33 L1773.96 1025.13 L1774.43 1026.2 L1774.9 1027.59 L1775.37 1028.33 L1775.84 1029.57 L1776.3 1030.63 L1776.77 1032.48 L1777.24 1033.2 L1777.71 1034.45 L1778.17 1035.76 L1778.64 1036.59 L1779.11 1037.78 L1779.57 1038.57 L1780.04 1040.34 L1780.51 1041.49 L1780.98 1042.54 L1781.44 1044.24 L1781.91 1044.68 L1782.38 1046.58 L1782.85 1047.38 L1783.31 1048.76 L1783.78 1050.33 L1784.25 1052.08 L1784.72 1052.67 L1785.19 1054.02 L1785.66 1055.24 L1786.13 1057.43 L1786.6 1058.25 L1787.07 1059.45 L1787.54 1061.16 L1788.01 1061.84 L1788.48 1062.35 L1788.95 1064 L1789.43 1064.96 L1789.9 1067.08 L1790.37 1067.23 L1790.85 1068.91 L1791.32 1069.84 L1791.8 1071.04 L1792.28 1072.37 L1792.75 1073.52 L1793.23 1074.57 L1793.71 1075.63 L1794.19 1077.04 L1794.67 1078.18 L1795.15 1079.5 L1795.64 1081.11 L1796.12 1082.34 L1796.6 1083.86 L1797.09 1084.98 L1797.58 1087.01 L1798.06 1087.53 L1798.55 1088.8 L1799.04 1090.78 L1799.53 1091.59 L1800.02 1093.2 L1800.52 1094.83 L1801.01 1095.86 L1801.51 1097.15 L1802 1098.97 L1802.5 1100.15 L1803 1101.26 L1803.5 1102.41 L1804 1104.04 L1804.51 1104.98 L1805.01 1106.58 L1805.52 1107.85 L1806.03 1109.65 L1806.54 1111.16 L1807.05 1112.05 L1807.56 1113.49 L1808.08 1114.63 L1808.6 1115.89 L1809.11 1117.56 L1809.63 1119.22 L1810.15 1120.5 L1810.67 1121.83 L1811.19 1122.83 L1811.72 1123.28 L1812.24 1125.84 L1812.76 1127.31 L1813.29 1128.52 L1813.82 1129.89 L1814.35 1131.33 L1814.87 1133.27 L1815.4 1133.81 L1815.93 1135.6 L1816.46 1136.68 L1817 1137.96 L1817.53 1138.99 L1818.06 1140.23 L1818.6 1141.26 L1819.13 1143.18 L1819.66 1144.18 L1820.2 1145.21 L1820.73 1146.72 L1821.27 1147.96 L1821.81 1150.37 L1822.34 1151.16 L1822.88 1152.76 L1823.42 1153.79 L1823.95 1155.36 L1824.49 1157.61 L1825.03 1158.68 L1825.57 1160.36 L1826.1 1162.44 L1826.64 1161.91 L1827.18 1164.98 L1827.71 1166.32 L1828.25 1167.6 L1828.79 1168.75 L1829.33 1170.87 L1829.86 1171.01 L1830.4 1172.69 L1830.93 1173.31 L1831.47 1174.82 L1832 1176.69 L1832.54 1177.99 L1833.07 1179.23 L1833.61 1180.28 L1834.14 1181.45 L1834.67 1182.83 L1835.2 1184.23 L1835.74 1186.12 L1836.27 1187.64 L1836.8 1188.69 L1837.32 1189.76 L1837.85 1191.02 L1838.38 1192.85 L1838.91 1194.04 L1839.43 1194.84 L1839.95 1197.31 L1840.48 1198.16 L1841 1199.39 L1841.52 1200.52 L1842.04 1201.85 L1842.57 1203.79 L1843.09 1204.45 L1843.61 1206.11 L1844.13 1207.57 L1844.66 1209.27 L1845.18 1210.09 L1845.7 1211.12 L1846.23 1212.26 L1846.75 1214.02 L1847.27 1215.39 L1847.8 1216.23 L1848.32 1217.93 L1848.85 1219.03 L1849.37 1219.85 L1849.89 1221.4 L1850.42 1223.36 L1850.94 1224.9 L1851.46 1225.95 L1851.99 1226.96 L1852.51 1228.11 L1853.04 1229.88 L1853.56 1231.15 L1854.08 1231.79 L1854.61 1233.92 L1855.13 1234.76 L1855.65 1236.55 L1856.17 1237.79 L1856.7 1239.12 L1857.22 1240.5 L1857.74 1241.6 L1858.26 1242.19 L1858.78 1243.4 L1859.3 1245.31 L1859.82 1246.29 L1860.34 1246.74 L1860.86 1247.78 L1861.38 1250.01 L1861.9 1251.7 L1862.42 1252.44 L1862.94 1253.31 L1863.46 1254.73 L1863.98 1254.9 L1864.49 1256.72 L1865.01 1258.6 L1865.52 1259.68 L1866.04 1259.72 L1866.55 1261.94 L1867.07 1262.75 L1867.58 1263.92 L1868.09 1264.54 L1868.61 1265.65 L1869.12 1266.31 L1869.63 1267.85 L1870.14 1269.09 L1870.65 1269.47 L1871.16 1270.93 L1871.66 1271.58 L1872.17 1273.08 L1872.68 1273.99 L1873.18 1273.74 L1873.69 1275.69 L1874.19 1276.86 L1874.7 1277.31 L1875.2 1278.45 L1875.7 1279.52 L1876.2 1280.21 L1876.7 1281.6 L1877.2 1283.22 L1877.7 1283.85 L1878.2 1285.22 L1878.7 1286.03 L1879.2 1287.1 L1879.7 1287.71 L1880.2 1288.92 L1880.7 1290.32 L1881.2 1291.08 L1881.69 1291.59 L1882.19 1292.12 L1882.69 1292.89 L1883.19 1294.12 L1883.69 1294.98 L1884.19 1294.93 L1884.69 1296.39 L1885.18 1297.15 L1885.68 1297.83 L1886.18 1298.22 L1886.68 1299.91 L1887.17 1300.1 L1887.67 1300.01 L1888.17 1300.95 L1888.66 1302.21 L1889.16 1302.84 L1889.66 1303.45 L1890.15 1304.15 L1890.65 1304.86 L1891.15 1305.55 L1891.64 1306.12 L1892.14 1307.45 L1892.63 1307.01 L1893.13 1308.45 L1893.62 1309.81 L1894.12 1309.71 L1894.61 1310.15 L1895.11 1311.79 L1895.6 1312.04 L1896.1 1312.17 L1896.59 1312.6 L1897.08 1313.32 L1897.58 1313.9 L1898.07 1314.57 L1898.56 1315.05 L1899.06 1316.15 L1899.55 1316.41 L1900.04 1316.6 L1900.53 1317.41 L1901.02 1318.48 L1901.52 1318.72 L1902.01 1318.78 L1902.5 1320.72 L1902.99 1320.9 L1903.48 1321.07 L1903.97 1321.56 L1904.46 1322.41 L1904.95 1323.19 L1905.44 1322.96 L1905.93 1323.78 L1906.42 1323.87 L1906.9 1324.64 L1907.39 1324.57 L1907.88 1324.77 L1908.37 1325.87 L1908.85 1326.27 L1909.34 1327 L1909.83 1327 L1910.31 1328.18 L1910.8 1328.23 L1911.29 1329.2 L1911.77 1329 L1912.26 1330.06 L1912.74 1329.91 L1913.23 1330.32 L1913.71 1330.91 L1914.19 1330.25 L1914.68 1330.74 L1915.16 1331.96 L1915.64 1331.04 L1916.12 1331.61 L1916.61 1332.2 L1917.09 1332.75 L1917.57 1332.33 L1918.05 1332.8 L1918.53 1332.63 L1919.01 1333.14 L1919.49 1333.87 L1919.97 1333.89 L1920.45 1334.03 L1920.93 1334.44 L1921.41 1334.61 L1921.88 1334.82 L1922.36 1334.98 L1922.84 1335.03 L1923.31 1335.85 L1923.79 1335.48 L1924.27 1336.45 L1924.74 1337.03 L1925.22 1337.02 L1925.69 1337.44 L1926.16 1336.46 L1926.64 1337.01 L1927.11 1336.77 L1927.58 1336.93 L1928.06 1336.76 L1928.53 1337.1 L1929 1337.99 L1929.5 1338.14 L1930 1338.53 L1930.5 1338.72 L1931 1338.82 L1931.5 1338.51 L1932 1338.95 L1932.5 1339.44 L1933 1339.81 L1933.5 1339.46 L1934 1339.57 L1934.5 1339.7 L1935 1340.44 L1935.5 1340.14 L1936 1339.87 L1936.5 1339.73 L1937 1340.13 L1937.5 1339.47 L1938 1339.99 L1938.5 1339.96 L1939 1340.07 L1939.5 1340.45 L1940 1340.67 L1940.5 1341.67 L1941 1340.87 L1941.5 1341.21 L1942 1340.85 L1942.5 1340.69 L1943 1341.67 L1943.5 1342 L1944 1341.1 L1944.5 1341.43 L1945 1341.84 L1945.5 1341.55 L1946 1340.79 L1946.5 1341.93 L1947 1341.63 L1947.5 1341.98 L1948 1341.52 L1948.5 1342.18 L1949 1342.29 L1949.5 1341.79 L1950 1342.22 L1950.5 1341.89 L1951 1341.96 L1951.5 1341.84 L1952 1342 L1952.5 1341.91 L1953 1342.48 L1953.5 1342.03 L1954 1341.74 L1954.5 1342.52 L1955 1342.28 L1955.5 1342.44 L1956 1342.15 L1956.5 1342.44 L1957 1342.24 L1957.5 1342.03 L1958 1342.41 L1958.5 1342.47 L1959 1342.52 L1959.5 1342.79 L1960 1342.05 L1960.5 1342.73 L1961 1342.43 L1961.5 1342.63 L1962 1342.88 L1962.5 1342.78 L1963 1342.57 L1963.5 1343.01 L1964 1342.77 L1964.5 1343.09 L1965 1343.2 L1965.5 1342.74 L1966 1342.54 L1966.5 1342.92 L1967 1343.16 L1967.5 1343.01 L1968 1342.55 L1968.5 1342.36 L1969 1342.55 L1969.5 1342.49 L1970 1342.9 L1970.5 1342.67 L1971 1342.85 L1971.5 1342.51 L1972 1342.98 L1972.5 1342.45 L1973 1342.58 L1973.5 1342.27 L1974 1342.51 L1974.5 1342.7 L1975 1342.61 L1975.5 1342.77 L1976 1342.23 L1976.5 1342.57 L1977 1342.96 L1977.5 1342.57 L1978 1342.48 L1978.5 1342.5 L1979 1342.46 L1979.5 1342.72 L1980 1343.16 L1980.5 1342.97 L1981 1342.92 L1981.5 1342.79 L1982 1342.77 L1982.5 1343.86 L1983 1343.07 L1983.5 1343.25 L1984 1343.05 L1984.5 1343.19 L1985 1342.94 L1985.5 1343 L1986 1343.3 L1986.5 1342.59 L1987 1342.89 L1987.5 1342.68 L1988 1342.64 L1988.5 1342.66 L1989 1342.68" fill="none" stroke="#ff0000" stroke-width="7.4" stroke-linejoin="miter" stroke-miterlimit="3" stroke-linecap="butt"/>
<path d="M388.5 1339.83 L389 1339.81 L389.5 1339.8 L390 1338.66 L390.5 1338.76 L391 1338.93 L391.5 1338.3 L392 1339.1 L392.5 1338.93 L393 1340.66 L393.5 1339.47 L394 1339.26 L394.5 1339.31 L395 1339.16 L395.5 1339.01 L396 1339.27 L396.5 1339.62 L397 1339.32 L397.5 1339.78 L398 1339.3 L398.5 1339.35 L399 1339.93 L399.5 1339.49 L400 1339.03 L400.5 1339.13 L401 1339.39 L401.5 1339.94 L402 1339.07 L402.5 1339.1 L403 1339.64 L403.5 1338.95 L404 1339.26 L404.5 1339.82 L405 1339.8 L405.5 1339.7 L406 1340.01 L406.5 1338.67 L407 1340.24 L407.5 1339.44 L408 1339.12 L408.5 1339.83 L409 1339.9 L409.5 1339.34 L410 1338.99 L410.5 1339.33 L411 1339.22 L411.5 1339.74 L412 1339.44 L412.5 1339.2 L413 1339.57 L413.5 1339.09 L414 1338.86 L414.5 1339.56 L415 1339.69 L415.5 1339.5 L416 1339.41 L416.5 1339.92 L417 1338.91 L417.5 1340.23 L418 1340.17 L418.5 1339.32 L419 1340 L419.5 1339.59 L420 1340.28 L420.5 1339.16 L421 1339.58 L421.5 1340.17 L422 1340.25 L422.5 1338.8 L423 1339.3 L423.5 1339.46 L424 1336.47 L424.5 1339.65 L425 1338.44 L425.5 1338.99 L426 1338.4 L426.5 1339.41 L427 1338.89 L427.5 1338.83 L428 1338.4 L428.5 1339.89 L429 1339.66 L429.5 1339.8 L430 1340.1 L430.5 1339.9 L431 1339.6 L431.5 1339.58 L432 1339.57 L432.5 1340.36 L433 1339.1 L433.5 1339.26 L434 1339.16 L434.5 1339.15 L435 1339.08 L435.5 1338.18 L436 1337.87 L436.5 1338.49 L437 1338.97 L437.5 1338.83 L438 1338.67 L438.5 1338.51 L439 1338.79 L439.5 1338.56 L440 1338.91 L440.5 1338.14 L441 1338.34 L441.5 1338.07 L442 1338.18 L442.5 1337.95 L443 1338.83 L443.5 1338.42 L444 1338.48 L444.5 1337.14 L445 1337.9 L445.5 1337.86 L446 1338.36 L446.5 1337.26 L447 1338.66 L447.5 1338.64 L448 1337.73 L448.5 1337.91 L449 1338.04 L449.5 1338.44 L450 1338.73 L450.5 1339.31 L451 1338.39 L451.5 1338.73 L452 1338.39 L452.5 1338.93 L453 1338.4 L453.5 1338.52 L454 1337.43 L454.5 1337.69 L455 1337.38 L455.5 1338.27 L456 1337.93 L456.5 1337.59 L457 1337.6 L457.5 1338.06 L458 1337.68 L458.5 1337.68 L459 1338.31 L459.5 1339.15 L460 1338.07 L460.5 1337.92 L461 1337.61 L461.5 1337.45 L462 1338.09 L462.5 1338.11 L463 1337.66 L463.5 1337.68 L464 1337.5 L464.5 1337.42 L465 1336.67 L465.5 1337.02 L466 1337.15 L466.5 1336.7 L467 1336.71 L467.5 1336.46 L468 1336.55 L468.5 1336.94 L469 1336.37 L469.5 1336.43 L470 1336.8 L470.5 1336.73 L471 1337.16 L471.5 1335.65 L472 1336.83 L472.5 1336.27 L473 1336.49 L473.5 1336.72 L474 1336.78 L474.5 1336.72 L475 1336.34 L475.5 1336.89 L476 1336.1 L476.5 1336.1 L477 1336.41 L477.5 1335.76 L478 1336.7 L478.5 1336.07 L479 1336.33 L479.5 1335.23 L480 1334.87 L480.5 1334.88 L481 1334.92 L481.5 1334.21 L482 1334.45 L482.5 1334.17 L483 1334.72 L483.5 1333.72 L484 1334.31 L484.5 1333.54 L485 1333.3 L485.5 1333.28 L486 1332.98 L486.5 1333.4 L487 1333.67 L487.5 1333.27 L488 1333.42 L488.5 1333.8 L489 1333.25 L489.5 1333.2 L490 1333 L490.5 1332.44 L491 1333.36 L491.5 1332.33 L492 1333.28 L492.5 1333.01 L493 1333.45 L493.5 1332.95 L494 1332.6 L494.5 1332.99 L495 1332.52 L495.5 1332.56 L496 1332.53 L496.5 1332.35 L497 1332.24 L497.5 1331.91 L498 1332.1 L498.5 1331.26 L499 1332 L499.5 1331.53 L500 1332.41 L500.5 1332.42 L501 1331.09 L501.5 1331.9 L502 1331.78 L502.5 1331.4 L503 1332.03 L503.5 1331.63 L504 1331.1 L504.5 1331.69 L505 1331.73 L505.5 1331.81 L506 1331.24 L506.5 1331.93 L507 1331.94 L507.5 1331.15 L508 1331.31 L508.5 1331.52 L509 1331.31 L509.5 1332.23 L510 1331.61 L510.5 1331.11 L511 1331.16 L511.5 1331.41 L512 1332.27 L512.5 1331.18 L513 1331.18 L513.5 1331.19 L514 1330.82 L514.5 1331.61 L515 1330.37 L515.5 1330.8 L516 1330.52 L516.5 1330.69 L517 1329.99 L517.5 1331.2 L518 1330.48 L518.5 1330.58 L519 1330.21 L519.5 1330.3 L520 1330.79 L520.5 1330.93 L521 1330.78 L521.5 1330.91 L522 1330.65 L522.5 1330.33 L523 1330.62 L523.5 1330.5 L524 1330.19 L524.5 1330.5 L525 1330.7 L525.5 1330.25 L526 1329.97 L526.5 1330.35 L527 1330.76 L527.5 1329.84 L528 1329.8 L528.5 1329.67 L529 1330.09 L529.5 1328.74 L530 1329.48 L530.5 1329.68 L531 1328.77 L531.5 1329.6 L532 1329.17 L532.5 1328.71 L533 1329.03 L533.5 1328.38 L534 1328.83 L534.5 1329.85 L535 1328.82 L535.5 1329.95 L536 1329.19 L536.5 1329.6 L537 1329.18 L537.5 1328.2 L538 1328.79 L538.5 1329.01 L539 1328.38 L539.5 1328.2 L540 1328.79 L540.5 1328.27 L541 1327.05 L541.5 1327.99 L542 1328.45 L542.5 1327.74 L543 1328.12 L543.5 1328.17 L544 1327.38 L544.5 1326.73 L545 1326.49 L545.5 1326.83 L546 1327.05 L546.5 1326.67 L547 1326.68 L547.5 1326.23 L548 1326.5 L548.5 1326.2 L549 1326.32 L549.5 1326.01 L550 1325.99 L550.5 1326.52 L551 1326.34 L551.5 1326.45 L552 1327.13 L552.5 1326.82 L553 1328.02 L553.5 1327.2 L554 1326.54 L554.5 1327.06 L555 1326.83 L555.5 1326.33 L556 1326.95 L556.5 1326.08 L557 1325.02 L557.5 1326.41 L558 1325.69 L558.5 1326.39 L559 1325.4 L559.5 1325.08 L560 1326.08 L560.5 1324.96 L561 1325.43 L561.5 1325.92 L562 1325.39 L562.5 1325.34 L563 1325.43 L563.5 1325.75 L564 1325.08 L564.5 1325.61 L565 1325.52 L565.5 1326.11 L566 1324.89 L566.5 1324.46 L567 1324.91 L567.5 1324.23 L568 1324.28 L568.5 1324 L569 1324.22 L569.5 1323.32 L570 1319.05 L570.5 1322.34 L571 1322.94 L571.5 1323.87 L572 1322.96 L572.5 1322.94 L573 1322.74 L573.5 1323.48 L574 1323.34 L574.5 1322.81 L575 1323.57 L575.5 1323.4 L576 1323.56 L576.5 1322.95 L577 1323.82 L577.5 1323.19 L578 1322.87 L578.5 1322.6 L579 1322.6 L579.5 1322.93 L580 1322.37 L580.5 1322.82 L581 1322.55 L581.5 1322.79 L582 1322.54 L582.5 1322.17 L583 1321.43 L583.5 1322.31 L584 1322.52 L584.5 1322.27 L585 1322.41 L585.5 1321.97 L586 1321.95 L586.5 1321.65 L587 1322.45 L587.5 1321.82 L588 1321.4 L588.5 1320.91 L589 1321.24 L589.5 1321.77 L590 1321.32 L590.5 1320.82 L591 1321.69 L591.5 1321.7 L592 1321.54 L592.5 1321.44 L593 1321.54 L593.5 1321.2 L594 1321.17 L594.5 1320.38 L595 1321.11 L595.5 1320.41 L596 1320.94 L596.5 1319.14 L597 1320.09 L597.5 1320.07 L598 1319.44 L598.5 1319.68 L599 1319.75 L599.5 1319.63 L600 1319.14 L600.5 1319.24 L601 1319.63 L601.5 1319.65 L602 1319.07 L602.5 1318.93 L603 1318.84 L603.5 1319.03 L604 1316.82 L604.5 1317.79 L605 1318.25 L605.5 1317.67 L606 1317.82 L606.5 1318.07 L607 1318.23 L607.5 1317.61 L608 1318.38 L608.5 1317.35 L609 1318.26 L609.5 1317.37 L610 1317.43 L610.5 1318.11 L611 1317.57 L611.5 1317.27 L612 1317.26 L612.5 1317.46 L613 1317.1 L613.5 1316.96 L614 1317.27 L614.5 1316.45 L615 1316.46 L615.5 1316.37 L616 1316.98 L616.5 1316.84 L617 1316.89 L617.5 1316.28 L618 1316.16 L618.5 1316.49 L619 1315.95 L619.5 1316.41 L620 1316.38 L620.5 1315.85 L621 1316.17 L621.5 1316.23 L622 1317.05 L622.5 1317.44 L623 1316.39 L623.5 1316.42 L624 1315.44 L624.5 1316.36 L625 1316.17 L625.5 1315.64 L626 1316.28 L626.5 1315.26 L627 1315.74 L627.5 1315.84 L628 1315.26 L628.5 1316.09 L629 1316.15 L629.5 1315.16 L630 1315.12 L630.5 1315.88 L631 1315.55 L631.5 1314.97 L632 1315.21 L632.5 1315.12 L633 1314.92 L633.5 1315.1 L634 1314.71 L634.5 1315.04 L635 1314.65 L635.5 1314.16 L636 1314.12 L636.5 1314.04 L637 1313.65 L637.5 1312.76 L638 1313.5 L638.5 1313.13 L639 1313.71 L639.5 1313.06 L640 1313.2 L640.5 1313.07 L641 1313.54 L641.5 1312.86 L642 1312.57 L642.5 1312.68 L643 1312.24 L643.5 1312.32 L644 1312.08 L644.5 1312 L645 1312.48 L645.5 1311.38 L646 1311.43 L646.5 1311.25 L647 1311.55 L647.5 1310.82 L648 1311.05 L648.5 1311.37 L649 1311.67 L649.5 1311.48 L650 1311.31 L650.5 1311.15 L651 1311.64 L651.5 1311.91 L652 1311.32 L652.5 1311.1 L653 1311.01 L653.5 1310.25 L654 1310.29 L654.5 1310.07 L655 1310.05 L655.5 1309.65 L656 1308.89 L656.5 1309.52 L657 1309.43 L657.5 1308.33 L658 1308.3 L658.5 1307.96 L659 1307.91 L659.5 1306.78 L660 1307.82 L660.5 1306.82 L661 1307.38 L661.5 1306.81 L662 1306.57 L662.5 1306.66 L663 1307.1 L663.5 1306.46 L664 1306.73 L664.5 1306.77 L665 1306.33 L665.5 1307.56 L666 1307.25 L666.5 1306.94 L667 1307.3 L667.5 1306.3 L668 1306.46 L668.5 1306.97 L669 1306.45 L669.5 1304.95 L670 1304.3 L670.5 1305.01 L671 1305.66 L671.5 1304.87 L672 1304.8 L672.5 1304.96 L673 1304.19 L673.5 1304.48 L674 1304.57 L674.5 1304.33 L675 1304.21 L675.5 1303.74 L676 1304.13 L676.5 1303.69 L677 1304.29 L677.5 1304.68 L678 1303.18 L678.5 1302.4 L679 1302.84 L679.5 1302.88 L680 1302.85 L680.5 1302.55 L681 1301.5 L681.5 1301.21 L682 1301.77 L682.5 1300.61 L683 1301.3 L683.5 1300.65 L684 1300.97 L684.5 1300.9 L685 1300.92 L685.5 1300.93 L686 1300.19 L686.5 1300.67 L687 1300.48 L687.5 1300.49 L688 1300.7 L688.5 1299.91 L689 1299.51 L689.5 1299.26 L690 1299.16 L690.5 1299.32 L691 1298.42 L691.5 1298.94 L692 1298.32 L692.5 1297.85 L693 1297.16 L693.5 1297.56 L694 1297.52 L694.5 1296.34 L695 1297.33 L695.5 1297.33 L696 1296.62 L696.5 1296.51 L697 1297.11 L697.5 1296.48 L698 1295.48 L698.5 1295.69 L699 1295.49 L699.5 1295.33 L700 1294.25 L700.5 1295.28 L701 1294.47 L701.5 1294.5 L702 1294.09 L702.5 1294.2 L703 1293.45 L703.5 1293 L704 1293.3 L704.5 1293.45 L705 1292.58 L705.5 1293.09 L706 1292.48 L706.5 1292.01 L707 1292.66 L707.5 1291.55 L708 1292.08 L708.5 1291.26 L709 1291.4 L709.5 1290.46 L710 1290.34 L710.5 1290.8 L711 1290.15 L711.5 1289.79 L712 1289.31 L712.5 1289.38 L713 1288.38 L713.5 1288.25 L714 1288.42 L714.5 1287.96 L715 1287.85 L715.5 1287.96 L716 1287.79 L716.5 1287.62 L717 1288.2 L717.5 1287.73 L718 1287.56 L718.5 1286.75 L719 1286.21 L719.5 1285.47 L720 1285.55 L720.5 1284.52 L721 1284.82 L721.5 1285.1 L722 1285.22 L722.5 1284.78 L723 1283.88 L723.5 1284.28 L724 1283.64 L724.5 1284.15 L725 1283.62 L725.5 1283.83 L726 1284.29 L726.5 1283.35 L727 1283.56 L727.5 1282.29 L728 1281.64 L728.5 1281.83 L729 1281.52 L729.5 1280.15 L730 1279.99 L730.5 1279 L731 1279.15 L731.5 1279.26 L732 1278.56 L732.5 1278.07 L733 1277.44 L733.5 1277.87 L734 1277.78 L734.5 1277.45 L735 1277.09 L735.5 1276.27 L736 1277.29 L736.5 1276.36 L737 1276.11 L737.5 1276.22 L738 1274.81 L738.5 1275.36 L739 1275.03 L739.5 1274.92 L740 1274.99 L740.5 1274.32 L741 1273.07 L741.5 1273.34 L742 1273.22 L742.5 1272.85 L743 1271.93 L743.5 1271.44 L744 1271.98 L744.5 1271.58 L745 1271.12 L745.5 1270.14 L746 1271.24 L746.5 1269.06 L747 1269.74 L747.5 1270.36 L748 1269.07 L748.5 1268.8 L749 1267.81 L749.5 1268.39 L750 1266.92 L750.5 1267.15 L751 1266.76 L751.5 1265.97 L752 1266.46 L752.5 1265.26 L753 1265.26 L753.5 1265.22 L754 1264.73 L754.5 1264.72 L755 1264.52 L755.5 1263.64 L756 1263.14 L756.5 1262.77 L757 1262.45 L757.5 1262.55 L758 1261.77 L758.5 1261.65 L759 1261.07 L759.5 1260.38 L760 1260.67 L760.5 1259.51 L761 1259.53 L761.5 1259.73 L762 1258.31 L762.5 1258.36 L763 1257.41 L763.5 1257.53 L764 1256.85 L764.5 1257.03 L765 1256.69 L765.5 1256.68 L766 1256.95 L766.5 1256.08 L767 1255.83 L767.5 1255.12 L768 1254.58 L768.5 1253.87 L769 1252.99 L769.5 1253.24 L770 1253.37 L770.5 1252.42 L771 1251.54 L771.5 1251.96 L772 1250.69 L772.5 1250.19 L773 1249.55 L773.5 1249.26 L774 1249.14 L774.5 1249.62 L775.01 1248.29 L775.51 1247.48 L776.01 1247.12 L776.52 1246.72 L777.02 1245.54 L777.52 1245.69 L778.03 1245.34 L778.53 1244.63 L779.04 1244.23 L779.54 1243 L780.05 1242.41 L780.55 1243.22 L781.06 1242.77 L781.57 1241.35 L782.07 1241.65 L782.58 1241.16 L783.09 1240.9 L783.59 1240.25 L784.1 1239.42 L784.61 1239.12 L785.12 1238.52 L785.63 1237.86 L786.14 1236.58 L786.65 1235.57 L787.16 1235.88 L787.67 1234.99 L788.18 1235.16 L788.69 1234.77 L789.2 1234.02 L789.71 1233.2 L790.22 1232.79 L790.73 1232.64 L791.24 1231.35 L791.75 1231.44 L792.26 1230.82 L792.78 1230.14 L793.29 1230.1 L793.8 1228.8 L794.31 1228.98 L794.83 1227.83 L795.34 1227.46 L795.85 1226.91 L796.37 1227.04 L796.88 1226.07 L797.4 1225.98 L797.91 1225.06 L798.42 1225.4 L798.94 1225.2 L799.45 1224.11 L799.97 1224.12 L800.48 1223.19 L801 1223.24 L801.51 1221.93 L802.03 1220.77 L802.54 1221.32 L803.06 1220.18 L803.57 1219.3 L804.09 1218.92 L804.61 1218.06 L805.12 1218.09 L805.64 1217.27 L806.15 1217.69 L806.67 1216.87 L807.19 1215.5 L807.7 1214.98 L808.22 1214.71 L808.74 1213.6 L809.25 1213.6 L809.77 1212.96 L810.29 1212.05 L810.8 1211.48 L811.32 1211.2 L811.84 1210.88 L812.36 1210.26 L812.87 1209.12 L813.39 1208.79 L813.91 1207.63 L814.42 1207.44 L814.94 1206.4 L815.46 1206.45 L815.98 1205.26 L816.49 1204.85 L817.01 1204.68 L817.53 1204.37 L818.04 1203.16 L818.56 1202.89 L819.08 1202.5 L819.6 1201.87 L820.11 1200.79 L820.63 1200.35 L821.15 1199.45 L821.67 1199.23 L822.18 1198.17 L822.7 1196.8 L823.22 1195.79 L823.73 1195.89 L824.25 1195.62 L824.77 1194.69 L825.28 1194.34 L825.8 1193.3 L826.32 1192.42 L826.83 1192.49 L827.35 1191.63 L827.87 1191.16 L828.38 1189.82 L828.9 1189.65 L829.42 1188.7 L829.93 1188.46 L830.45 1187.31 L830.96 1186.56 L831.48 1185.8 L831.99 1185.59 L832.51 1184.38 L833.03 1183.31 L833.54 1182.4 L834.06 1181.59 L834.57 1181.6 L835.09 1179.82 L835.6 1179.41 L836.11 1179.17 L836.63 1178.66 L837.14 1177.58 L837.66 1177.21 L838.17 1176.54 L838.68 1175.94 L839.2 1174.98 L839.71 1174.78 L840.22 1173.65 L840.74 1173.36 L841.25 1171.88 L841.76 1171.81 L842.27 1170.49 L842.79 1169.77 L843.3 1169.73 L843.81 1168.7 L844.32 1168.43 L844.83 1167.31 L845.34 1167.39 L845.85 1166.18 L846.36 1165.05 L846.87 1164.61 L847.38 1163.95 L847.89 1162.57 L848.4 1162.04 L848.91 1161.58 L849.42 1160.35 L849.93 1159.23 L850.44 1158.24 L850.95 1157.77 L851.45 1156.4 L851.96 1155.21 L852.47 1155.15 L852.98 1154.29 L853.48 1154.34 L853.99 1153.11 L854.49 1151.99 L855 1151.09 L855.51 1150.67 L856.01 1149.37 L856.52 1148.49 L857.02 1147.67 L857.53 1146.76 L858.03 1145.83 L858.54 1144.93 L859.04 1144.39 L859.55 1143.65 L860.05 1141.9 L860.56 1142.23 L861.07 1140.74 L861.57 1140.22 L862.08 1138.84 L862.58 1138.28 L863.09 1137.39 L863.59 1136.49 L864.1 1135.8 L864.6 1134.85 L865.11 1133.52 L865.61 1132.85 L866.12 1132.16 L866.62 1131.23 L867.13 1130.06 L867.63 1129.17 L868.14 1128.3 L868.64 1127.15 L869.15 1126.21 L869.66 1126.06 L870.16 1124.68 L870.67 1123.93 L871.17 1122.86 L871.68 1122.53 L872.18 1121.8 L872.69 1120.45 L873.19 1119.78 L873.7 1118.58 L874.2 1118.3 L874.71 1117.16 L875.21 1115.77 L875.72 1115.31 L876.22 1114.1 L876.73 1113.11 L877.23 1112.09 L877.74 1110.82 L878.24 1109.83 L878.74 1109.08 L879.25 1107.88 L879.75 1106.61 L880.26 1106.28 L880.76 1104.71 L881.27 1103.59 L881.77 1102.54 L882.28 1101.86 L882.78 1100.94 L883.29 1099.78 L883.79 1098.95 L884.3 1097.42 L884.8 1096.7 L885.3 1095.67 L885.81 1094.77 L886.31 1093.85 L886.82 1092.22 L887.32 1092.34 L887.83 1090.38 L888.33 1089.59 L888.83 1088.65 L889.34 1087.61 L889.84 1086.44 L890.35 1084.72 L890.85 1084.1 L891.35 1083.49 L891.86 1082.09 L892.36 1081.02 L892.87 1079.67 L893.37 1079.36 L893.87 1078.09 L894.38 1076.65 L894.88 1075.66 L895.38 1074.5 L895.89 1073.11 L896.39 1072.12 L896.89 1071.06 L897.4 1069.96 L897.9 1068.97 L898.4 1067.57 L898.91 1066.35 L899.41 1065.43 L899.91 1062.99 L900.42 1062.91 L900.92 1062.3 L901.42 1060.89 L901.93 1059.87 L902.43 1058.83 L902.93 1057.31 L903.43 1056.48 L903.94 1055.25 L904.44 1053.95 L904.94 1052.85 L905.45 1051.42 L905.95 1049.93 L906.45 1049.11 L906.95 1047.77 L907.46 1046.9 L907.96 1045.52 L908.46 1044.09 L908.96 1042.91 L909.46 1041.87 L909.97 1040.51 L910.47 1039.04 L910.97 1037.76 L911.47 1036.35 L911.97 1035.14 L912.48 1034.07 L912.98 1032.75 L913.48 1031.66 L913.98 1030.2 L914.48 1028.91 L914.98 1027.71 L915.49 1026.74 L915.99 1025.84 L916.49 1024.54 L916.99 1022.82 L917.49 1021.4 L917.99 1020.57 L918.49 1019.19 L918.99 1017.51 L919.49 1016.69 L920 1015.2 L920.5 1014.1 L921 1012.57 L921.5 1011.33 L922 1009.86 L922.5 1008.24 L923 1007.02 L923.5 1005.57 L924 1004.51 L924.5 1002.8 L925 1001.35 L925.5 1000.45 L926 999.2 L926.5 997.91 L927 996.47 L927.5 994.57 L927.99 993.34 L928.49 991.96 L928.99 990.64 L929.49 988.78 L929.98 987.77 L930.48 986.38 L930.98 984.69 L931.47 983.46 L931.97 982.24 L932.46 980.57 L932.96 979.34 L933.45 977.88 L933.94 976.31 L934.44 974.84 L934.93 973.21 L935.42 972.04 L935.92 970.18 L936.41 968.6 L936.9 967.34 L937.39 965.51 L937.88 964.18 L938.38 962.76 L938.87 961.02 L939.36 959.49 L939.85 958.11 L940.34 956.54 L940.83 954.53 L941.32 953.02 L941.81 951.98 L942.3 950.21 L942.79 948.13 L943.28 946.68 L943.77 945.36 L944.26 943.56 L944.74 942.25 L945.23 940.58 L945.72 939.08 L946.21 937.16 L946.7 935.94 L947.19 934.64 L947.67 932.51 L948.16 931.36 L948.65 929.72 L949.14 928.07 L949.63 926.34 L950.11 924.52 L950.6 922.95 L951.09 921.63 L951.58 920.01 L952.06 918.37 L952.55 916.61 L953.04 914.89 L953.53 912.91 L954.01 911.04 L954.5 909.6 L954.99 907.94 L955.47 906.14 L955.96 904.1 L956.45 902.57 L956.94 900.66 L957.42 899.26 L957.91 897.29 L958.4 895.73 L958.89 894.08 L959.37 892.27 L959.86 890.72 L960.35 888.41 L960.84 886.55 L961.33 885.11 L961.81 883.34 L962.3 881.49 L962.79 879.42 L963.28 877.66 L963.77 875.8 L964.26 873.78 L964.74 872.21 L965.23 870.72 L965.72 868.8 L966.21 867.58 L966.7 865.15 L967.19 863.6 L967.68 862.11 L968.17 859.94 L968.66 857.99 L969.15 856.1 L969.64 854.37 L970.13 852.96 L970.62 850.87 L971.12 849.02 L971.61 846.93 L972.1 845.3 L972.59 843.24 L973.08 841.11 L973.58 839.27 L974.07 837.47 L974.56 835.74 L975.06 833.58 L975.55 831.79 L976.04 830.19 L976.54 827.73 L977.03 825.74 L977.53 824.26 L978.02 822.21 L978.52 820.13 L979.02 818.2 L979.51 816.06 L980.01 814.19 L980.51 811.97 L981.01 810.17 L981.5 807.77 L982 805.85 L982.5 804.06 L983 801.98 L983.5 800.25 L984 798.12 L984.5 796.01 L985 794.13 L985.51 791.92 L986.01 789.63 L986.52 787.62 L987.02 785.57 L987.53 783.52 L988.03 781.52 L988.54 779.58 L989.05 777.41 L989.56 775.57 L990.07 773.39 L990.58 771.03 L991.09 769.32 L991.6 767.15 L992.11 764.75 L992.63 762.83 L993.14 760.91 L993.65 758.65 L994.17 756.71 L994.68 754.48 L995.2 752.43 L995.71 750.1 L996.23 748.1 L996.75 745.8 L997.26 743.85 L997.78 741.2 L998.3 739.43 L998.82 737.43 L999.34 735.11 L999.85 732.81 L1000.37 730.75 L1000.89 729.39 L1001.41 726.16 L1001.93 724.11 L1002.45 722.02 L1002.97 720.11 L1003.49 717.59 L1004.01 715.81 L1004.53 713.12 L1005.05 711.08 L1005.57 709.01 L1006.09 707.02 L1006.61 704.43 L1007.13 701.88 L1007.65 700.14 L1008.17 697.8 L1008.69 695.32 L1009.21 693.05 L1009.73 690.84 L1010.25 688.7 L1010.77 686.51 L1011.29 683.76 L1011.81 682.19 L1012.33 679.4 L1012.85 677.02 L1013.36 674.92 L1013.88 672.5 L1014.4 670.65 L1014.92 668.1 L1015.44 665.51 L1015.95 663.19 L1016.47 660.85 L1016.99 658.54 L1017.5 656.39 L1018.02 653.78 L1018.53 651.88 L1019.05 649.2 L1019.56 644.99 L1020.07 644.77 L1020.59 641.89 L1021.1 639.8 L1021.61 637.81 L1022.12 635.39 L1022.63 633.06 L1023.14 630.78 L1023.65 628.2 L1024.16 625.87 L1024.67 623.19 L1025.17 620.62 L1025.68 618.77 L1026.18 615.84 L1026.69 613.41 L1027.19 611.36 L1027.7 608.84 L1028.2 606.09 L1028.7 603.67 L1029.2 601.36 L1029.7 598.79 L1030.2 596.7 L1030.7 594.24 L1031.2 591.86 L1031.7 589.6 L1032.19 587.22 L1032.69 585.07 L1033.19 582.62 L1033.69 579.59 L1034.18 577.71 L1034.68 574.89 L1035.17 572.38 L1035.67 570.35 L1036.17 567.58 L1036.66 565.16 L1037.16 562.94 L1037.65 560.1 L1038.15 557.56 L1038.64 555.34 L1039.13 553.09 L1039.63 550.54 L1040.12 547.74 L1040.62 545.55 L1041.11 543.3 L1041.6 541.36 L1042.09 538.78 L1042.59 536.39 L1043.08 534.05 L1043.57 531.33 L1044.07 529.07 L1044.56 526.64 L1045.05 523.91 L1045.54 521.67 L1046.03 519.35 L1046.53 516.57 L1047.02 514.49 L1047.51 512.02 L1048 509.59 L1048.49 506.75 L1048.98 504.44 L1049.48 502.22 L1049.97 499.61 L1050.46 496.83 L1050.95 494.57 L1051.44 492.36 L1051.93 489.64 L1052.43 487.32 L1052.92 485.36 L1053.41 482.46 L1053.9 480.08 L1054.39 477.53 L1054.88 475.23 L1055.38 473.27 L1055.87 470.55 L1056.36 467.94 L1056.85 465.59 L1057.34 463.39 L1057.84 461.15 L1058.33 458.48 L1058.82 456.41 L1059.31 453.82 L1059.81 451.63 L1060.3 449.3 L1060.79 446.95 L1061.29 444.37 L1061.78 442.03 L1062.27 439.79 L1062.77 437.05 L1063.26 434.98 L1063.75 432.7 L1064.25 430.47 L1064.74 427.92 L1065.23 425.57 L1065.73 423.31 L1066.22 420.82 L1066.71 418.62 L1067.21 416.44 L1067.7 414.12 L1068.19 411.57 L1068.69 409.42 L1069.18 406.78 L1069.67 405.07 L1070.17 402.5 L1070.66 400.34 L1071.15 397.76 L1071.65 395.66 L1072.14 393.48 L1072.63 391.32 L1073.13 388.6 L1073.62 386.8 L1074.11 384.38 L1074.61 382.04 L1075.1 380.08 L1075.59 377.71 L1076.09 375.5 L1076.58 373.21 L1077.07 371.19 L1077.57 368.95 L1078.06 366.71 L1078.55 364.36 L1079.05 362.25 L1079.54 360.23 L1080.03 358.2 L1080.53 355.73 L1081.02 353.83 L1081.51 351.36 L1082.01 348.99 L1082.5 347.2 L1082.99 344.77 L1083.48 342.96 L1083.98 341.03 L1084.47 338.7 L1084.96 336.69 L1085.46 335.16 L1085.95 332.68 L1086.44 330.65 L1086.94 328.73 L1087.43 326.54 L1087.92 324.54 L1088.41 322.64 L1088.91 320.11 L1089.4 318.9 L1089.89 316.44 L1090.38 314.5 L1090.88 312.89 L1091.37 310.86 L1091.86 308.69 L1092.36 307.06 L1092.85 304.88 L1093.34 303.05 L1093.83 300.97 L1094.32 299.18 L1094.82 297.51 L1095.31 295.54 L1095.8 293.67 L1096.29 291.88 L1096.79 289.79 L1097.28 287.78 L1097.77 285.99 L1098.26 284.52 L1098.75 282.36 L1099.25 280.61 L1099.74 278.74 L1100.23 277.05 L1100.72 275.35 L1101.21 273.54 L1101.7 271.81 L1102.19 270 L1102.69 268.3 L1103.18 266.87 L1103.67 265.26 L1104.16 263.61 L1104.65 261.74 L1105.14 259.87 L1105.63 258.47 L1106.12 256.78 L1106.62 254.68 L1107.11 253.47 L1107.6 251.78 L1108.09 250.35 L1108.58 248.17 L1109.07 246.53 L1109.56 245.35 L1110.05 243.26 L1110.54 241.92 L1111.03 240.31 L1111.52 238.83 L1112.01 237.17 L1112.5 236.05 L1112.99 234.87 L1113.48 233.36 L1113.97 231.97 L1114.46 230.43 L1114.94 229.42 L1115.43 227.87 L1115.92 226.61 L1116.4 224.75 L1116.89 223.79 L1117.38 222.18 L1117.86 221.19 L1118.35 219.89 L1118.83 218.39 L1119.32 217.44 L1119.8 216.44 L1120.28 215.13 L1120.77 213.99 L1121.25 212.55 L1121.73 211.43 L1122.22 210.19 L1122.7 209.29 L1123.18 208.33 L1123.66 207.01 L1124.14 205.75 L1124.62 204.35 L1125.11 203.49 L1125.59 202.17 L1126.07 200.67 L1126.55 199.55 L1127.03 198.68 L1127.51 197.43 L1127.99 196.82 L1128.47 195.39 L1128.95 194.09 L1129.43 193.13 L1129.91 192.5 L1130.39 190.97 L1130.87 190.32 L1131.35 189.28 L1131.83 188.54 L1132.31 187.43 L1132.79 186.34 L1133.27 185.64 L1133.75 184.7 L1134.22 184.04 L1134.7 183.03 L1135.18 182.66 L1135.66 181.5 L1136.14 180.88 L1136.62 179.96 L1137.1 179.43 L1137.58 178.74 L1138.06 178.1 L1138.55 177.57 L1139.03 176.62 L1139.51 175.88 L1139.99 175.59 L1140.47 174.64 L1140.95 173.91 L1141.43 173.64 L1141.91 172.94 L1142.39 171.66 L1142.88 171.51 L1143.36 171.16 L1143.84 170.58 L1144.33 169.73 L1144.81 169.57 L1145.29 168.54 L1145.78 168.12 L1146.26 167.7 L1146.75 167.21 L1147.23 166.94 L1147.72 166.59 L1148.2 166 L1148.69 165.92 L1149.17 165.16 L1149.66 164.91 L1150.15 164.96 L1150.64 164.32 L1151.12 164.19 L1151.61 163.59 L1152.1 163.33 L1152.59 163.08 L1153.08 162.86 L1153.57 162.5 L1154.06 162.33 L1154.55 162.24 L1155.05 162.13 L1155.54 161.72 L1156.03 161.66 L1156.53 161.55 L1157.02 161.02 L1157.52 160.79 L1158.01 161.31 L1158.51 161.14 L1159.01 160.78 L1159.5 160.74 L1160 160.38 L1160.5 160.21 L1161 160.48 L1161.5 160.08 L1162 160.56 L1162.5 160.28 L1163 160.55 L1163.5 160.97 L1164 161.08 L1164.5 160.77 L1165 161.15 L1165.5 160.82 L1166 160.98 L1166.5 161.23 L1167 161.47 L1167.5 161.13 L1168 161.41 L1168.5 161.4 L1169 161.25 L1169.5 161.63 L1170 162.15 L1170.5 162.06 L1171 162.45 L1171.5 162.82 L1172 162.83 L1172.5 163.57 L1173 163.98 L1173.5 164.36 L1174 164.67 L1174.5 164.69 L1175 165.05 L1175.5 165.41 L1176 165.81 L1176.5 166.27 L1177 167.08 L1177.5 167.66 L1178 167.73 L1178.5 168.52 L1179 168.62 L1179.5 169.32 L1180 169.7 L1180.5 170.11 L1181 170.99 L1181.5 171.56 L1182 172.05 L1182.5 172.63 L1183 173.16 L1183.5 173.98 L1184 174.54 L1184.5 175.38 L1185 175.79 L1185.5 176.78 L1186 177.57 L1186.5 178.46 L1187 179.19 L1187.5 179.79 L1188 180.41 L1188.5 180.99 L1189 182.18 L1189.5 183.3 L1190 184.2 L1190.5 184.23 L1191 185.47 L1191.5 186.45 L1192 187.23 L1192.5 188.4 L1193 189.32 L1193.5 190.17 L1194 191.24 L1194.5 191.93 L1195 193.08 L1195.5 194.13 L1196 195.54 L1196.5 196.1 L1197 197.46 L1197.5 198.75 L1198 199.68 L1198.5 200.97 L1199 201.81 L1199.5 203.18 L1200 204.46 L1200.5 205.92 L1201 206.84 L1201.5 208.21 L1202 209.17 L1202.5 210.43 L1203 211.96 L1203.5 213.01 L1204 214.42 L1204.5 215.52 L1205 217.06 L1205.5 218.39 L1206 219.03 L1206.5 220.87 L1207 221.91 L1207.5 223.26 L1208 224.52 L1208.5 226.08 L1209 227.14 L1209.5 228.67 L1210 230.14 L1210.5 231.84 L1211 233.49 L1211.5 234.99 L1212 236.48 L1212.5 237.87 L1213 239.26 L1213.5 241.34 L1214 242.96 L1214.5 244.85 L1215 246.63 L1215.5 248.04 L1216 249.78 L1216.5 251.11 L1217 253.44 L1217.5 255.07 L1218 256.7 L1218.5 258.69 L1219 260.18 L1219.5 262.06 L1220 264.36 L1220.5 265.92 L1221 267.76 L1221.5 269.54 L1222 271.35 L1222.5 273.09 L1223 275.34 L1223.5 276.71 L1224 278.73 L1224.5 280.39 L1225 282.24 L1225.5 283.71 L1226 285.71 L1226.5 288.32 L1227 290.24 L1227.5 291.8 L1228 293.83 L1228.5 295.93 L1229 297.58 L1229.5 300.13 L1230 301.57 L1230.5 303.66 L1231 305.3 L1231.5 308.23 L1232 310.02 L1232.5 312.43 L1233 314.02 L1233.5 316.39 L1234 318.45 L1234.5 320.59 L1235 323.07 L1235.5 325.21 L1236 327.13 L1236.5 328.87 L1237 331.23 L1237.5 333.43 L1238 335.38 L1238.5 337.51 L1239 339.63 L1239.5 341.51 L1240 343.91 L1240.5 346.36 L1241 348.03 L1241.5 350.44 L1242 352.78 L1242.5 354.52 L1243 356.93 L1243.5 358.78 L1244 361.14 L1244.5 363.12 L1245 365.37 L1245.5 367.61 L1246 369.84 L1246.5 372.06 L1247 373.86 L1247.5 376.92 L1248 378.81 L1248.5 380.91 L1249 383.26 L1249.5 385.68 L1250 387.62 L1250.5 389.92 L1251 392.06 L1251.5 394.4 L1252 396.27 L1252.5 398.63 L1253 400.74 L1253.5 402.78 L1254 405.2 L1254.5 407.1 L1255 409 L1255.5 411.43 L1256 413.53 L1256.5 415.63 L1257 417.83 L1257.5 420.41 L1258 422.16 L1258.5 424.41 L1259 426.48 L1259.5 429.01 L1260 430.96 L1260.5 433 L1261 435.1 L1261.5 437.6 L1262 439.79 L1262.5 441.45 L1263 443.75 L1263.5 446.15 L1264 448.35 L1264.5 450.01 L1265 452.31 L1265.5 454.66 L1266 456.48 L1266.5 458.58 L1267 460.64 L1267.5 462.57 L1268 464.93 L1268.5 467.08 L1269 468.85 L1269.5 471.28 L1270 473.62 L1270.5 475.59 L1271 477.87 L1271.5 479.69 L1272 482.17 L1272.5 483.81 L1273 486.4 L1273.5 487.98 L1274 489.97 L1274.5 491.97 L1275 494.13 L1275.5 496.19 L1276 498.26 L1276.5 500.45 L1277 502.79 L1277.5 504.98 L1278 506.88 L1278.5 509.32 L1279 510.98 L1279.5 513.05 L1280 515.09 L1280.5 517.46 L1281 519.04 L1281.5 521.07 L1282 523.6 L1282.5 525.69 L1283 527.62 L1283.5 529.06 L1284 531.38 L1284.5 533.56 L1285 535.43 L1285.5 537.1 L1286 539.37 L1286.5 541.12 L1287 543.23 L1287.5 545.93 L1288 547.64 L1288.5 549.22 L1289 551.2 L1289.5 553.56 L1290 555.31 L1290.5 557.49 L1291 559.19 L1291.5 561.23 L1292 563.27 L1292.5 564.97 L1293 566.76 L1293.5 568.86 L1294 570.9 L1294.5 572.94 L1295 574.89 L1295.5 576.79 L1296 578.8 L1296.5 580.4 L1297 582.74 L1297.5 584.74 L1298 586.29 L1298.5 588.15 L1299 590.26 L1299.5 592.05 L1300 593.87 L1300.5 595.7 L1301 597.49 L1301.5 599.29 L1302 601.54 L1302.5 603.51 L1303 604.91 L1303.5 606.96 L1304 608.86 L1304.5 610.57 L1305 612.35 L1305.5 614.26 L1306 615.79 L1306.5 618.01 L1307 619.8 L1307.5 622.12 L1308 623.71 L1308.5 625.28 L1309 627.15 L1309.5 629.29 L1310 631.04 L1310.5 632.51 L1311 634.18 L1311.5 635.64 L1312 637.57 L1312.5 639.3 L1313 640.9 L1313.5 643.1 L1314 644.1 L1314.5 646.18 L1315 648.03 L1315.5 649.78 L1316 651.78 L1316.5 652.91 L1317 654.77 L1317.5 656.66 L1318 658.37 L1318.5 659.97 L1319 661.59 L1319.5 663.64 L1320 664.9 L1320.5 666.68 L1321 668.76 L1321.5 670.5 L1322 671.99 L1322.5 673.29 L1323 674.93 L1323.5 676.55 L1324 678.12 L1324.5 679.88 L1325 681.83 L1325.5 683.24 L1326 684.67 L1326.5 686.3 L1327 687.85 L1327.5 689.97 L1328 690.95 L1328.5 693.02 L1329 694.26 L1329.5 695.89 L1330 697.33 L1330.5 699.32 L1331 700.59 L1331.5 702.62 L1332 703.32 L1332.5 704.78 L1333 706.61 L1333.5 708.11 L1334 709.47 L1334.5 710.66 L1335 712.89 L1335.5 714.25 L1336 715.74 L1336.5 717.05 L1337 718.79 L1337.5 720.02 L1338 721.59 L1338.5 722.97 L1339 724.67 L1339.5 725.73 L1340 727.14 L1340.5 728.82 L1341 730.03 L1341.5 731.36 L1342 732.7 L1342.5 734.32 L1343 735.4 L1343.5 737.02 L1344 738.74 L1344.5 739.83 L1345 741.02 L1345.5 742.36 L1346 744.05 L1346.5 745.19 L1347 746.51 L1347.5 748.05 L1348 749.34 L1348.5 751.06 L1349 751.89 L1349.5 753.77 L1350 754.56 L1350.5 755.97 L1351 757.32 L1351.5 758.47 L1352 759.81 L1352.5 760.71 L1353 761.71 L1353.5 763.38 L1354 764.34 L1354.5 765.82 L1355 767.37 L1355.5 768.37 L1356 769.52 L1356.5 770.61 L1357 771.98 L1357.5 773.19 L1358 774.1 L1358.5 775.66 L1359 776.57 L1359.5 778 L1360 779.19 L1360.5 780.48 L1361 781.59 L1361.5 782.55 L1362 783.65 L1362.5 784.89 L1363 786.19 L1363.5 787.24 L1364 788.16 L1364.5 789.28 L1365 790.6 L1365.5 790.99 L1366 792.45 L1366.5 793.15 L1367 794.59 L1367.5 795.21 L1368 796.27 L1368.5 797.07 L1369 798.28 L1369.5 799.42 L1370 800.57 L1370.5 800.95 L1371 802.05 L1371.5 803.85 L1372 804.17 L1372.5 804.88 L1373 805.89 L1373.5 806.16 L1374 807.95 L1374.5 808.59 L1375 809.21 L1375.5 810.66 L1376 811.23 L1376.5 812.06 L1377 813.26 L1377.5 814.1 L1378 814.77 L1378.5 815.68 L1379 816.23 L1379.5 816.99 L1380 818.23 L1380.5 819.06 L1381 819.62 L1381.5 820.33 L1382 820.89 L1382.5 821.64 L1383 822.18 L1383.5 823.45 L1384 823.66 L1384.5 824.57 L1385 825.17 L1385.5 825.55 L1386 826.94 L1386.5 827.09 L1387 827.64 L1387.5 828.47 L1388 828.89 L1388.5 829.75 L1389 830.2 L1389.5 831.23 L1390 831.82 L1390.5 832.19 L1391 833.45 L1391.5 833.11 L1392 834.28 L1392.5 835.24 L1393 835.83 L1393.5 836.69 L1394 836.52 L1394.5 837.38 L1395 837.58 L1395.5 838.17 L1396 838.37 L1396.5 838.86 L1397 839.45 L1397.5 839.48 L1398 839.72 L1398.5 840.74 L1399 841.1 L1399.5 841.7 L1400 842.27 L1400.5 842.45 L1401 843.21 L1401.5 843.26 L1402 843.66 L1402.5 844.23 L1403 844.54 L1403.5 844.73 L1404 845.16 L1404.5 845.26 L1405 845.62 L1405.5 846.12 L1406 846.58 L1406.5 846.46 L1407 847.04 L1407.5 847.57 L1408 847.84 L1408.5 847.44 L1409 847.98 L1409.5 848.1 L1410 848.42 L1410.5 848.71 L1411 848.89 L1411.5 849.26 L1412 849.33 L1412.5 849.42 L1413 849.76 L1413.5 849.97 L1414 850.29 L1414.5 850.07 L1415 850.21 L1415.5 850.42 L1416 849.69 L1416.5 849.92 L1417 850.23 L1417.5 850.14 L1418 849.9 L1418.5 850.62 L1419 850.35 L1419.5 850.1 L1420 851.01 L1420.5 849.99 L1421 850.31 L1421.5 850.02 L1422 850.14 L1422.51 850.14 L1423.01 849.6 L1423.52 849.69 L1424.03 849.57 L1424.54 849.22 L1425.05 849.77 L1425.56 849.4 L1426.07 849.19 L1426.59 848.98 L1427.1 848.96 L1427.62 848.95 L1428.14 848.62 L1428.66 848.91 L1429.18 847.65 L1429.7 847.55 L1430.22 847.85 L1430.74 847.18 L1431.26 847.42 L1431.78 847.01 L1432.3 847.08 L1432.83 846.75 L1433.35 846.69 L1433.88 846.28 L1434.4 846.06 L1434.93 845.54 L1435.45 845.34 L1435.98 844.83 L1436.5 844.17 L1437.02 843.58 L1437.55 843.16 L1438.07 843.12 L1438.6 841.94 L1439.12 842.09 L1439.65 841.38 L1440.17 841.26 L1440.7 840.63 L1441.22 839.9 L1441.74 839.55 L1442.26 838.48 L1442.78 838.52 L1443.3 838 L1443.82 836.91 L1444.34 836.94 L1444.86 836.13 L1445.38 835.59 L1445.9 834.62 L1446.41 834.43 L1446.93 833.76 L1447.44 832.95 L1447.95 832.05 L1448.46 831.71 L1448.97 831.1 L1449.48 830.2 L1449.99 829.6 L1450.49 828.55 L1451 827.98 L1451.5 827.29 L1452 826.49 L1452.5 826.26 L1453 824.98 L1453.5 823.97 L1454 823.41 L1454.5 822.17 L1455 821.58 L1455.5 820.77 L1455.99 819.62 L1456.49 818.72 L1456.99 817.65 L1457.49 816.9 L1457.99 815.74 L1458.49 815.2 L1458.98 813.94 L1459.48 812.7 L1459.98 811.37 L1460.48 810.96 L1460.97 809.69 L1461.47 808.39 L1461.97 807.2 L1462.47 806.05 L1462.96 804.77 L1463.46 804.11 L1463.96 802.64 L1464.45 801.17 L1464.95 800.18 L1465.44 798.63 L1465.94 798.08 L1466.44 796.88 L1466.93 795.84 L1467.43 794.64 L1467.92 792.78 L1468.42 791.74 L1468.92 790.55 L1469.41 789.21 L1469.91 787.63 L1470.4 786.56 L1470.9 785.14 L1471.39 783.93 L1471.89 782.25 L1472.38 780.79 L1472.88 779.31 L1473.37 777.89 L1473.87 776.37 L1474.36 775 L1474.85 773.71 L1475.35 772.22 L1475.84 770.91 L1476.34 769.35 L1476.83 767.73 L1477.33 765.83 L1477.82 764.61 L1478.31 763.15 L1478.81 761.07 L1479.3 759.5 L1479.8 757.91 L1480.29 756.25 L1480.78 754.74 L1481.28 752.91 L1481.77 751.46 L1482.26 749.4 L1482.76 747.85 L1483.25 746 L1483.75 744.12 L1484.24 742.73 L1484.73 740.71 L1485.23 738.98 L1485.72 736.95 L1486.21 735.27 L1486.71 733.34 L1487.2 731.24 L1487.69 728.95 L1488.19 727.49 L1488.68 725.47 L1489.17 723.37 L1489.67 721.38 L1490.16 719.35 L1490.65 717.34 L1491.15 715.07 L1491.64 713.21 L1492.13 711.21 L1492.63 708.92 L1493.12 706.72 L1493.61 705.13 L1494.11 702.69 L1494.6 700.29 L1495.09 698.01 L1495.59 695.32 L1496.08 693.29 L1496.57 691.22 L1497.06 689.22 L1497.55 686.22 L1498.04 684.14 L1498.54 682.3 L1499.03 679.66 L1499.52 677.21 L1500.01 674.94 L1500.49 672.24 L1500.98 669.78 L1501.47 667.51 L1501.96 665.08 L1502.45 662.24 L1502.94 660.3 L1503.42 657.2 L1503.91 654.96 L1504.4 653.27 L1504.89 650.1 L1505.37 647.88 L1505.86 645.08 L1506.34 642.75 L1506.83 640.19 L1507.32 637.78 L1507.8 635.51 L1508.29 633.25 L1508.77 630.6 L1509.26 628.25 L1509.74 625.35 L1510.23 623.25 L1510.71 620.57 L1511.2 618.22 L1511.68 615.36 L1512.16 612.91 L1512.65 610.75 L1513.13 608.14 L1513.62 605.6 L1514.1 603.04 L1514.58 600.79 L1515.07 598.56 L1515.55 596.29 L1516.03 593.74 L1516.52 591.5 L1517 589.38 L1517.49 586.78 L1517.97 584.89 L1518.45 582.38 L1518.93 580.01 L1519.42 577.19 L1519.9 574.97 L1520.38 572.69 L1520.87 570.39 L1521.35 567.9 L1521.83 565.8 L1522.32 563.37 L1522.8 560.91 L1523.29 558.17 L1523.77 556.49 L1524.25 553.79 L1524.74 551.62 L1525.22 549.03 L1525.7 546.84 L1526.19 544.67 L1526.67 542.27 L1527.16 540.11 L1527.64 537.57 L1528.13 535.69 L1528.61 532.58 L1529.09 530.51 L1529.58 528.48 L1530.07 525.89 L1530.55 523.5 L1531.04 520.9 L1531.52 519.16 L1532.01 516.21 L1532.49 514.37 L1532.98 511.99 L1533.47 509.81 L1533.95 507.63 L1534.44 504.92 L1534.93 502.64 L1535.42 500.51 L1535.9 498.02 L1536.39 496.35 L1536.88 493.93 L1537.37 491.88 L1537.86 489.46 L1538.35 487.53 L1538.84 485.25 L1539.33 483.21 L1539.82 480.85 L1540.31 479.12 L1540.8 476.63 L1541.29 474.11 L1541.78 472.63 L1542.27 470.33 L1542.76 468.12 L1543.26 466.74 L1543.75 464.19 L1544.24 461.91 L1544.74 460.06 L1545.23 458.26 L1545.73 456.16 L1546.22 454.47 L1546.72 452.47 L1547.21 450.14 L1547.71 448.36 L1548.21 446.57 L1548.71 444.47 L1549.2 442.61 L1549.7 441.05 L1550.2 439.16 L1550.7 437.01 L1551.2 435.4 L1551.7 433.65 L1552.2 431.93 L1552.7 430.03 L1553.21 429.47 L1553.71 426.45 L1554.22 424.69 L1554.72 423.23 L1555.23 421.05 L1555.73 419.65 L1556.24 418.38 L1556.75 416.42 L1557.25 415 L1557.76 413.9 L1558.27 412.31 L1558.78 410.79 L1559.29 409.4 L1559.8 407.79 L1560.31 406.55 L1560.82 405.01 L1561.33 404.12 L1561.85 402.29 L1562.36 400.68 L1562.87 399.33 L1563.38 397.95 L1563.9 396.29 L1564.41 395.05 L1564.92 394.18 L1565.44 392.27 L1565.95 391.13 L1566.47 388.97 L1566.98 388.99 L1567.5 387.24 L1568.01 386.55 L1568.53 385.04 L1569.04 384.35 L1569.56 383.08 L1570.07 381.93 L1570.59 381.19 L1571.1 380.25 L1571.62 379.1 L1572.13 378.83 L1572.65 377.48 L1573.16 376.94 L1573.68 376.32 L1574.19 374.71 L1574.71 374.04 L1575.22 373.45 L1575.74 372.83 L1576.25 372.28 L1576.77 371.19 L1577.28 370.38 L1577.79 369.48 L1578.31 369.02 L1578.82 368.42 L1579.33 367.29 L1579.85 367.39 L1580.36 366.8 L1580.87 366.5 L1581.38 365.38 L1581.89 365.13 L1582.4 364.71 L1582.91 364.06 L1583.42 363.81 L1583.93 363.45 L1584.44 363.44 L1584.95 363.13 L1585.46 363.05 L1585.96 362.45 L1586.47 362.04 L1586.98 362.22 L1587.48 362.04 L1587.99 361.96 L1588.49 361.96 L1588.99 361.5 L1589.5 361.7 L1590 361.28 L1590.5 361.47 L1591 361.56 L1591.5 361.42 L1592 361.55 L1592.5 361.34 L1593 361.65 L1593.49 362.03 L1593.99 362.02 L1594.49 362.39 L1594.98 363.38 L1595.48 363.29 L1595.97 363.44 L1596.47 363.76 L1596.96 364.61 L1597.46 364.14 L1597.95 365.02 L1598.44 365.61 L1598.94 365.8 L1599.43 366.47 L1599.92 366.63 L1600.41 367.35 L1600.9 367.89 L1601.39 368.45 L1601.89 369.06 L1602.38 369.65 L1602.87 370.51 L1603.36 370.9 L1603.85 371.53 L1604.34 372.31 L1604.83 373.05 L1605.32 373.58 L1605.81 374.28 L1606.29 375.6 L1606.78 376.33 L1607.27 376.96 L1607.76 377.85 L1608.25 379.37 L1608.74 379.92 L1609.23 380.58 L1609.72 381.45 L1610.2 382.84 L1610.69 383.41 L1611.18 384.84 L1611.67 385.76 L1612.16 386.98 L1612.65 387.65 L1613.14 389.1 L1613.63 389.72 L1614.11 391.25 L1614.6 392.74 L1615.09 393.05 L1615.58 394.74 L1616.07 396.57 L1616.56 397.87 L1617.05 399.11 L1617.54 400.33 L1618.03 401.76 L1618.52 403.05 L1619.01 404.68 L1619.5 405.91 L1619.99 407.35 L1620.49 408.6 L1620.98 409.54 L1621.47 411.19 L1621.96 412.98 L1622.46 413.76 L1622.95 415.5 L1623.44 416.78 L1623.94 418.29 L1624.43 420.06 L1624.93 421.77 L1625.42 423.33 L1625.92 424.87 L1626.41 426.6 L1626.91 427.72 L1627.41 429.88 L1627.9 431.47 L1628.4 433.04 L1628.9 434.77 L1629.4 436.29 L1629.9 438.39 L1630.4 439.69 L1630.9 441.24 L1631.4 443.24 L1631.9 444.83 L1632.4 446.66 L1632.9 448.7 L1633.41 450.11 L1633.91 451.91 L1634.41 454.9 L1634.91 455.16 L1635.41 457.34 L1635.92 459.37 L1636.42 461.35 L1636.92 463.46 L1637.43 464.89 L1637.93 467.18 L1638.43 469.1 L1638.94 471.1 L1639.44 473.1 L1639.94 474.98 L1640.45 477.34 L1640.95 479.4 L1641.46 480.99 L1641.96 483.29 L1642.47 484.95 L1642.97 486.79 L1643.48 488.4 L1643.98 491.1 L1644.49 492.98 L1645 494.75 L1645.5 496.73 L1646.01 498.56 L1646.51 500.96 L1647.02 502.9 L1647.53 505.1 L1648.03 507.14 L1648.54 508.94 L1649.05 511.05 L1649.56 513.6 L1650.06 515.34 L1650.57 517.91 L1651.08 520.22 L1651.59 521.96 L1652.09 524.53 L1652.6 526.58 L1653.11 528.83 L1653.62 530.74 L1654.13 532.99 L1654.64 535.2 L1655.14 537.6 L1655.65 539.5 L1656.16 541.6 L1656.67 543.4 L1657.18 545.93 L1657.69 547.94 L1658.2 550.31 L1658.71 552.64 L1659.22 555.06 L1659.73 557.26 L1660.24 559.45 L1660.75 561.67 L1661.26 564.22 L1661.77 566.02 L1662.28 568.47 L1662.79 571 L1663.3 572.94 L1663.81 575.41 L1664.32 577.68 L1664.83 580.17 L1665.34 582.26 L1665.85 583.97 L1666.36 586.57 L1666.87 588.9 L1667.38 591.28 L1667.9 593.47 L1668.41 596.06 L1668.92 598.2 L1669.43 600.03 L1669.94 602.44 L1670.45 604.45 L1670.96 607.5 L1671.47 609.4 L1671.99 611.66 L1672.5 613.62 L1673.01 616.1 L1673.52 618.54 L1674.03 620.64 L1674.54 622.94 L1675.05 625.23 L1675.57 628.11 L1676.08 629.99 L1676.59 632.23 L1677.1 634.86 L1677.61 637.34 L1678.12 639.85 L1678.64 642.27 L1679.15 644.55 L1679.66 647.19 L1680.17 649.76 L1680.68 651.87 L1681.2 655.05 L1681.71 657.51 L1682.22 659.34 L1682.73 662.21 L1683.24 665.1 L1683.75 667.79 L1684.27 670.52 L1684.78 672.44 L1685.29 675.25 L1685.8 678.04 L1686.31 680.95 L1686.82 683.31 L1687.34 686.34 L1687.85 689.07 L1688.36 691.86 L1688.87 694.2 L1689.38 697.24 L1689.89 699.96 L1690.41 702.59 L1690.92 705.67 L1691.43 708.08 L1691.94 711.15 L1692.45 713.47 L1692.96 716.67 L1693.47 719.4 L1693.98 721.66 L1694.5 724.67 L1695.01 727.46 L1695.52 729.99 L1696.03 733.14 L1696.54 735.87 L1697.05 738.31 L1697.56 741.22 L1698.07 744.06 L1698.58 746.5 L1699.09 749.02 L1699.6 752.7 L1700.11 754.18 L1700.62 757.04 L1701.13 759.77 L1701.64 762.27 L1702.15 764.3 L1702.66 767.17 L1703.17 769.77 L1703.68 772.33 L1704.19 775.08 L1704.7 777.65 L1705.21 780.14 L1705.72 782.73 L1706.23 785.42 L1706.74 787.99 L1707.25 789.85 L1707.76 793.16 L1708.27 795.06 L1708.77 797.77 L1709.28 799.71 L1709.79 802.34 L1710.3 804.57 L1710.81 807.41 L1711.32 809.72 L1711.82 811.88 L1712.33 814.17 L1712.84 816.6 L1713.35 818.66 L1713.85 821.05 L1714.36 823.34 L1714.87 825.97 L1715.37 828.11 L1715.88 830.12 L1716.39 832.71 L1716.89 834.98 L1717.4 837.37 L1717.91 839.18 L1718.41 841.56 L1718.92 844.08 L1719.42 845.76 L1719.93 847.9 L1720.43 850.21 L1720.94 852.11 L1721.44 854.3 L1721.95 856.25 L1722.45 858.23 L1722.96 860.58 L1723.46 862.32 L1723.96 864.18 L1724.47 866.31 L1724.97 868.33 L1725.48 870.42 L1725.98 872.56 L1726.48 874.74 L1726.98 876.14 L1727.49 878.34 L1727.99 880 L1728.49 882.37 L1728.99 884.36 L1729.49 886.02 L1730 887.83 L1730.5 889.64 L1731 891.35 L1731.5 893.57 L1732 895.62 L1732.5 896.77 L1733 899.52 L1733.5 900.5 L1734 901.98 L1734.5 904.09 L1734.99 905.82 L1735.49 907.43 L1735.99 908.98 L1736.48 911.04 L1736.98 912.32 L1737.47 914.19 L1737.96 915.87 L1738.46 917.23 L1738.95 918.69 L1739.44 920.35 L1739.93 922.24 L1740.42 923.98 L1740.91 925.12 L1741.4 926.89 L1741.89 928.89 L1742.38 929.75 L1742.87 931.74 L1743.35 933.25 L1743.84 934.87 L1744.33 935.95 L1744.81 937.87 L1745.3 939.07 L1745.79 941.18 L1746.27 942.28 L1746.75 944.06 L1747.24 945.34 L1747.72 947.02 L1748.21 948.16 L1748.69 950.01 L1749.17 951.54 L1749.65 952.87 L1750.14 954.66 L1750.62 955.87 L1751.1 957.41 L1751.58 958.81 L1752.06 960.54 L1752.55 961.46 L1753.03 962.97 L1753.51 964.4 L1753.99 965.98 L1754.47 967.3 L1754.95 968.8 L1755.43 970.06 L1755.91 971.24 L1756.39 972.7 L1756.87 974.16 L1757.35 974.93 L1757.83 977.08 L1758.31 978.01 L1758.79 979.4 L1759.27 980.86 L1759.75 982.06 L1760.23 983.09 L1760.71 984.64 L1761.19 986.27 L1761.67 987.46 L1762.15 988.78 L1762.63 989.64 L1763.11 990.98 L1763.59 992.53 L1764.07 993.88 L1764.56 994.8 L1765.04 995.81 L1765.52 996.83 L1766 998.85 L1766.48 999.42 L1766.96 1001.16 L1767.44 1002.57 L1767.92 1004.47 L1768.4 1005.09 L1768.88 1006.37 L1769.35 1007.86 L1769.83 1009.21 L1770.3 1010.71 L1770.78 1011.83 L1771.25 1012.72 L1771.72 1013.61 L1772.2 1015.42 L1772.67 1016.39 L1773.14 1018.13 L1773.61 1018.67 L1774.08 1020.29 L1774.55 1021.28 L1775.02 1022.47 L1775.49 1024.33 L1775.96 1025.13 L1776.43 1026.2 L1776.9 1027.59 L1777.37 1028.33 L1777.84 1029.57 L1778.3 1030.63 L1778.77 1032.48 L1779.24 1033.2 L1779.71 1034.45 L1780.17 1035.76 L1780.64 1036.59 L1781.11 1037.78 L1781.57 1038.57 L1782.04 1040.34 L1782.51 1041.49 L1782.98 1042.54 L1783.44 1044.24 L1783.91 1044.68 L1784.38 1046.58 L1784.85 1047.38 L1785.31 1048.76 L1785.78 1050.33 L1786.25 1052.08 L1786.72 1052.67 L1787.19 1054.02 L1787.66 1055.24 L1788.13 1057.43 L1788.6 1058.25 L1789.07 1059.45 L1789.54 1061.16 L1790.01 1061.84 L1790.48 1062.35 L1790.95 1064 L1791.43 1064.96 L1791.9 1067.08 L1792.37 1067.23 L1792.85 1068.91 L1793.32 1069.84 L1793.8 1071.04 L1794.28 1072.37 L1794.75 1073.52 L1795.23 1074.57 L1795.71 1075.63 L1796.19 1077.04 L1796.67 1078.18 L1797.15 1079.5 L1797.64 1081.11 L1798.12 1082.34 L1798.6 1083.86 L1799.09 1084.98 L1799.58 1087.01 L1800.06 1087.53 L1800.55 1088.8 L1801.04 1090.78 L1801.53 1091.59 L1802.02 1093.2 L1802.52 1094.83 L1803.01 1095.86 L1803.51 1097.15 L1804 1098.97 L1804.5 1100.15 L1805 1101.26 L1805.5 1102.41 L1806 1104.04 L1806.51 1104.98 L1807.01 1106.58 L1807.52 1107.85 L1808.03 1109.65 L1808.54 1111.16 L1809.05 1112.05 L1809.56 1113.49 L1810.08 1114.63 L1810.6 1115.89 L1811.11 1117.56 L1811.63 1119.22 L1812.15 1120.5 L1812.67 1121.83 L1813.19 1122.83 L1813.72 1123.28 L1814.24 1125.84 L1814.76 1127.31 L1815.29 1128.52 L1815.82 1129.89 L1816.35 1131.33 L1816.87 1133.27 L1817.4 1133.81 L1817.93 1135.6 L1818.46 1136.68 L1819 1137.96 L1819.53 1138.99 L1820.06 1140.23 L1820.6 1141.26 L1821.13 1143.18 L1821.66 1144.18 L1822.2 1145.21 L1822.73 1146.72 L1823.27 1147.96 L1823.81 1150.37 L1824.34 1151.16 L1824.88 1152.76 L1825.42 1153.79 L1825.95 1155.36 L1826.49 1157.61 L1827.03 1158.68 L1827.57 1160.36 L1828.1 1162.44 L1828.64 1161.91 L1829.18 1164.98 L1829.71 1166.32 L1830.25 1167.6 L1830.79 1168.75 L1831.33 1170.87 L1831.86 1171.01 L1832.4 1172.69 L1832.93 1173.31 L1833.47 1174.82 L1834 1176.69 L1834.54 1177.99 L1835.07 1179.23 L1835.61 1180.28 L1836.14 1181.45 L1836.67 1182.83 L1837.2 1184.23 L1837.74 1186.12 L1838.27 1187.64 L1838.8 1188.69 L1839.32 1189.76 L1839.85 1191.02 L1840.38 1192.85 L1840.91 1194.04 L1841.43 1194.84 L1841.95 1197.31 L1842.48 1198.16 L1843 1199.39 L1843.52 1200.52 L1844.04 1201.85 L1844.57 1203.79 L1845.09 1204.45 L1845.61 1206.11 L1846.13 1207.57 L1846.66 1209.27 L1847.18 1210.09 L1847.7 1211.12 L1848.23 1212.26 L1848.75 1214.02 L1849.27 1215.39 L1849.8 1216.23 L1850.32 1217.93 L1850.85 1219.03 L1851.37 1219.85 L1851.89 1221.4 L1852.42 1223.36 L1852.94 1224.9 L1853.46 1225.95 L1853.99 1226.96 L1854.51 1228.11 L1855.04 1229.88 L1855.56 1231.15 L1856.08 1231.79 L1856.61 1233.92 L1857.13 1234.76 L1857.65 1236.55 L1858.17 1237.79 L1858.7 1239.12 L1859.22 1240.5 L1859.74 1241.6 L1860.26 1242.19 L1860.78 1243.4 L1861.3 1245.31 L1861.82 1246.29 L1862.34 1246.74 L1862.86 1247.78 L1863.38 1250.01 L1863.9 1251.7 L1864.42 1252.44 L1864.94 1253.31 L1865.46 1254.73 L1865.98 1254.9 L1866.49 1256.72 L1867.01 1258.6 L1867.52 1259.68 L1868.04 1259.72 L1868.55 1261.94 L1869.07 1262.75 L1869.58 1263.92 L1870.09 1264.54 L1870.61 1265.65 L1871.12 1266.31 L1871.63 1267.85 L1872.14 1269.09 L1872.65 1269.47 L1873.16 1270.93 L1873.66 1271.58 L1874.17 1273.08 L1874.68 1273.99 L1875.18 1273.74 L1875.69 1275.69 L1876.19 1276.86 L1876.7 1277.31 L1877.2 1278.45 L1877.7 1279.52 L1878.2 1280.21 L1878.7 1281.6 L1879.2 1283.22 L1879.7 1283.85 L1880.2 1285.22 L1880.7 1286.03 L1881.2 1287.1 L1881.7 1287.71 L1882.2 1288.92 L1882.7 1290.32 L1883.2 1291.08 L1883.69 1291.59 L1884.19 1292.12 L1884.69 1292.89 L1885.19 1294.12 L1885.69 1294.98 L1886.19 1294.93 L1886.69 1296.39 L1887.18 1297.15 L1887.68 1297.83 L1888.18 1298.22 L1888.68 1299.91 L1889.17 1300.1 L1889.67 1300.01 L1890.17 1300.95 L1890.66 1302.21 L1891.16 1302.84 L1891.66 1303.45 L1892.15 1304.15 L1892.65 1304.86 L1893.15 1305.55 L1893.64 1306.12 L1894.14 1307.45 L1894.63 1307.01 L1895.13 1308.45 L1895.62 1309.81 L1896.12 1309.71 L1896.61 1310.15 L1897.11 1311.79 L1897.6 1312.04 L1898.1 1312.17 L1898.59 1312.6 L1899.08 1313.32 L1899.58 1313.9 L1900.07 1314.57 L1900.56 1315.05 L1901.06 1316.15 L1901.55 1316.41 L1902.04 1316.6 L1902.53 1317.41 L1903.02 1318.48 L1903.52 1318.72 L1904.01 1318.78 L1904.5 1320.72 L1904.99 1320.9 L1905.48 1321.07 L1905.97 1321.56 L1906.46 1322.41 L1906.95 1323.19 L1907.44 1322.96 L1907.93 1323.78 L1908.42 1323.87 L1908.9 1324.64 L1909.39 1324.57 L1909.88 1324.77 L1910.37 1325.87 L1910.85 1326.27 L1911.34 1327 L1911.83 1327 L1912.31 1328.18 L1912.8 1328.23 L1913.29 1329.2 L1913.77 1329 L1914.26 1330.06 L1914.74 1329.91 L1915.23 1330.32 L1915.71 1330.91 L1916.19 1330.25 L1916.68 1330.74 L1917.16 1331.96 L1917.64 1331.04 L1918.12 1331.61 L1918.61 1332.2 L1919.09 1332.75 L1919.57 1332.33 L1920.05 1332.8 L1920.53 1332.63 L1921.01 1333.14 L1921.49 1333.87 L1921.97 1333.89 L1922.45 1334.03 L1922.93 1334.44 L1923.41 1334.61 L1923.88 1334.82 L1924.36 1334.98 L1924.84 1335.03 L1925.31 1335.85 L1925.79 1335.48 L1926.27 1336.45 L1926.74 1337.03 L1927.22 1337.02 L1927.69 1337.44 L1928.16 1336.46 L1928.64 1337.01 L1929.11 1336.77 L1929.58 1336.93 L1930.06 1336.76 L1930.53 1337.1 L1931 1337.99 L1931.5 1338.14 L1932 1338.53 L1932.5 1338.72 L1933 1338.82 L1933.5 1338.51 L1934 1338.95 L1934.5 1339.44 L1935 1339.81 L1935.5 1339.46 L1936 1339.57 L1936.5 1339.7 L1937 1340.44 L1937.5 1340.14 L1938 1339.87 L1938.5 1339.73 L1939 1340.13 L1939.5 1339.47 L1940 1339.99 L1940.5 1339.96 L1941 1340.07 L1941.5 1340.45 L1942 1340.67 L1942.5 1341.67 L1943 1340.87 L1943.5 1341.21 L1944 1340.85 L1944.5 1340.69 L1945 1341.67 L1945.5 1342 L1946 1341.1 L1946.5 1341.43 L1947 1341.84 L1947.5 1341.55 L1948 1340.79 L1948.5 1341.93 L1949 1341.63 L1949.5 1341.98 L1950 1341.52 L1950.5 1342.18 L1951 1342.29 L1951.5 1341.79 L1952 1342.22 L1952.5 1341.89 L1953 1341.96 L1953.5 1341.84 L1954 1342 L1954.5 1341.91 L1955 1342.48 L1955.5 1342.03 L1956 1341.74 L1956.5 1342.52 L1957 1342.28 L1957.5 1342.44 L1958 1342.15 L1958.5 1342.44 L1959 1342.24 L1959.5 1342.03 L1960 1342.41 L1960.5 1342.47 L1961 1342.52 L1961.5 1342.79 L1962 1342.05 L1962.5 1342.73 L1963 1342.43 L1963.5 1342.63 L1964 1342.88 L1964.5 1342.78 L1965 1342.57 L1965.5 1343.01 L1966 1342.77 L1966.5 1343.09 L1967 1343.2 L1967.5 1342.74 L1968 1342.54 L1968.5 1342.92 L1969 1343.16 L1969.5 1343.01 L1970 1342.55 L1970.5 1342.36 L1971 1342.55 L1971.5 1342.49 L1972 1342.9 L1972.5 1342.67 L1973 1342.85 L1973.5 1342.51 L1974 1342.98 L1974.5 1342.45 L1975 1342.58 L1975.5 1342.27 L1976 1342.51 L1976.5 1342.7 L1977 1342.61 L1977.5 1342.77 L1978 1342.23 L1978.5 1342.57 L1979 1342.96 L1979.5 1342.57 L1980 1342.48 L1980.5 1342.5 L1981 1342.46 L1981.5 1342.72 L1982 1343.16 L1982.5 1342.97 L1983 1342.92 L1983.5 1342.79 L1984 1342.77 L1984.5 1343.86 L1985 1343.07 L1985.5 1343.25 L1986 1343.05 L1986.5 1343.19 L1987 1342.94 L1987.5 1343 L1988 1343.3 L1988.5 1342.59 L1989 1342.89 L1989.5 1342.68 L1990 1342.64 L1990.5 1342.66 L1991 1342.68" fill="none" stroke="#ff0000" stroke-width="7.4" stroke-linejoin="miter" stroke-miterlimit="3" stroke-linecap="butt"/>
<path d="M388 1346.91 L390 1346.9 L392 1346.9 L394 1346.89 L396 1346.89 L398 1346.88 L400 1346.87 L402 1346.87 L404 1346.86 L406 1346.86 L408 1346.85 L410 1346.84 L412 1346.83 L414 1346.83 L416 1346.82 L418 1346.81 L420 1346.8 L422 1346.79 L424 1346.78 L426 1346.77 L428 1346.76 L430 1346.75 L432 1346.74 L434 1346.73 L436 1346.71 L438 1346.7 L440 1346.69 L442 1346.67 L444 1346.66 L446 1346.64 L448 1346.63 L450 1346.61 L452 1346.59 L454 1346.57 L456 1346.56 L458 1346.54 L460 1346.52 L462 1346.5 L464 1346.47 L466 1346.45 L468 1346.43 L470 1346.4 L472 1346.38 L474 1346.35 L476 1346.32 L478 1346.3 L480 1346.27 L482 1346.24 L484 1346.2 L486 1346.17 L488 1346.14 L490 1346.1 L492 1346.07 L494 1346.03 L496 1345.99 L498 1345.95 L500 1345.9 L502 1345.86 L504 1345.82 L506 1345.77 L508 1345.72 L510 1345.67 L512 1345.62 L514 1345.56 L516 1345.51 L518 1345.45 L520 1345.39 L522 1345.33 L524 1345.26 L526 1345.2 L528 1345.13 L530 1345.06 L532 1344.98 L534 1344.91 L536 1344.83 L538 1344.75 L540 1344.66 L542 1344.58 L544 1344.49 L546 1344.4 L548 1344.3 L550 1344.2 L552 1344.1 L554 1344 L556 1343.89 L558 1343.78 L560 1343.66 L562 1343.54 L564 1343.42 L566 1343.3 L568 1343.17 L570 1343.03 L572 1342.89 L574 1342.75 L576 1342.6 L578 1342.45 L580 1342.3 L582 1342.14 L584 1341.97 L586 1341.8 L588 1341.62 L590 1341.44 L592 1341.26 L594 1341.07 L596 1340.87 L598 1340.67 L600 1340.46 L602 1340.24 L604 1340.02 L606 1339.79 L608 1339.56 L610 1339.32 L612 1339.07 L614 1338.82 L616 1338.55 L618 1338.29 L620 1338.01 L622 1337.72 L624 1337.43 L626 1337.13 L628 1336.82 L630 1336.5 L632 1336.18 L634 1335.84 L636 1335.5 L638 1335.15 L640 1334.78 L642 1334.41 L644 1334.03 L646 1333.63 L648 1333.23 L650 1332.81 L652 1332.39 L654 1331.95 L656 1331.5 L658 1331.04 L660 1330.57 L662 1330.09 L664 1329.59 L666 1329.08 L668 1328.56 L670 1328.02 L672 1327.47 L674 1326.9 L676 1326.32 L678 1325.73 L680 1325.12 L682 1324.49 L684 1323.85 L686 1323.19 L688 1322.52 L690 1321.83 L692 1321.12 L694 1320.39 L696 1319.65 L698 1318.89 L700 1318.1 L702 1317.3 L704 1316.48 L706 1315.64 L708 1314.78 L710 1313.89 L712 1312.99 L714 1312.06 L716 1311.11 L718 1310.14 L720 1309.14 L722 1308.12 L724 1307.08 L726 1306.01 L728 1304.91 L730 1303.79 L732 1302.64 L734 1301.46 L736 1300.26 L738 1299.03 L740 1297.77 L742 1296.48 L744 1295.16 L746 1293.81 L748 1292.42 L750 1291.01 L752 1289.56 L754 1288.08 L756 1286.57 L758 1285.02 L760 1283.44 L762 1281.82 L764 1280.16 L766 1278.47 L768 1276.74 L770 1274.97 L772 1273.16 L774 1271.32 L776 1269.43 L778 1267.5 L780 1265.53 L782 1263.52 L784 1261.46 L786 1259.36 L788 1257.22 L790 1255.03 L792 1252.8 L794 1250.52 L796 1248.19 L798 1245.81 L800.01 1243.39 L802.01 1240.91 L804.01 1238.39 L806.02 1235.81 L808.03 1233.19 L810.03 1230.51 L812.04 1227.78 L814.05 1225 L816.06 1222.16 L818.07 1219.27 L820.09 1216.33 L822.1 1213.32 L824.11 1210.27 L826.12 1207.15 L828.14 1203.98 L830.15 1200.75 L832.17 1197.47 L834.19 1194.12 L836.2 1190.71 L838.22 1187.25 L840.24 1183.72 L842.25 1180.14 L844.27 1176.49 L846.29 1172.78 L848.31 1169.01 L850.33 1165.18 L852.35 1161.28 L854.37 1157.33 L856.39 1153.3 L858.41 1149.22 L860.43 1145.07 L862.46 1140.86 L864.49 1136.58 L866.53 1132.24 L868.57 1127.84 L870.61 1123.37 L872.66 1118.83 L874.71 1114.23 L876.76 1109.57 L878.82 1104.84 L880.87 1100.05 L882.93 1095.19 L884.99 1090.27 L887.04 1085.28 L889.1 1080.23 L891.15 1075.12 L893.21 1069.94 L895.26 1064.7 L897.31 1059.39 L899.36 1054.02 L901.4 1048.59 L903.44 1043.1 L905.48 1037.54 L907.51 1031.92 L909.54 1026.24 L911.57 1020.5 L913.58 1014.7 L915.59 1008.84 L917.6 1002.92 L919.6 996.94 L921.59 990.9 L923.58 984.81 L925.56 978.66 L927.54 972.45 L929.51 966.18 L931.48 959.86 L933.44 953.49 L935.4 947.06 L937.35 940.58 L939.3 934.04 L941.25 927.46 L943.2 920.82 L945.14 914.13 L947.08 907.4 L949.01 900.61 L950.95 893.78 L952.88 886.89 L954.81 879.96 L956.74 872.99 L958.66 865.97 L960.59 858.9 L962.51 851.79 L964.44 844.64 L966.36 837.44 L968.29 830.2 L970.21 822.92 L972.13 815.6 L974.06 808.23 L975.98 800.83 L977.89 793.39 L979.79 785.9 L981.68 778.38 L983.56 770.81 L985.42 763.21 L987.28 755.57 L989.13 747.89 L990.98 740.18 L992.82 732.42 L994.66 724.63 L996.5 716.8 L998.34 708.93 L1000.18 701.02 L1002.03 693.08 L1003.88 685.1 L1005.74 677.08 L1007.6 669.03 L1009.48 660.94 L1011.37 652.81 L1013.26 644.65 L1015.18 636.45 L1017.11 628.22 L1019.05 619.96 L1021.02 611.66 L1023 603.33 L1025 594.97 L1027.02 586.58 L1029.05 578.16 L1031.09 569.71 L1033.14 561.24 L1035.21 552.75 L1037.27 544.24 L1039.35 535.71 L1041.43 527.17 L1043.52 518.61 L1045.6 510.05 L1047.7 501.49 L1049.79 492.93 L1051.88 484.37 L1053.97 475.82 L1056.06 467.28 L1058.14 458.77 L1060.22 450.28 L1062.3 441.82 L1064.39 433.4 L1066.48 425.03 L1068.58 416.7 L1070.68 408.43 L1072.78 400.22 L1074.89 392.08 L1077 384.01 L1079.11 376.03 L1081.23 368.14 L1083.34 360.35 L1085.46 352.66 L1087.57 345.09 L1089.68 337.63 L1091.8 330.29 L1093.91 323.09 L1096.02 316.02 L1098.12 309.1 L1100.22 302.32 L1102.32 295.7 L1104.42 289.24 L1106.51 282.95 L1108.59 276.82 L1110.67 270.87 L1112.74 265.1 L1114.81 259.51 L1116.87 254.1 L1118.92 248.89 L1120.96 243.86 L1122.99 239.03 L1125.02 234.39 L1127.05 229.96 L1129.07 225.72 L1131.09 221.68 L1133.12 217.85 L1135.14 214.22 L1137.15 210.8 L1139.17 207.58 L1141.18 204.56 L1143.19 201.75 L1145.2 199.15 L1147.2 196.76 L1149.2 194.57 L1151.19 192.59 L1153.18 190.82 L1155.17 189.25 L1157.15 187.89 L1159.13 186.74 L1161.11 185.8 L1163.09 185.07 L1165.06 184.54 L1167.03 184.23 L1169 184.12 L1170.95 184.23 L1172.86 184.54 L1174.75 185.07 L1176.61 185.81 L1178.47 186.76 L1180.32 187.92 L1182.17 189.3 L1184.04 190.89 L1185.93 192.69 L1187.85 194.71 L1189.81 196.95 L1191.81 199.4 L1193.84 202.07 L1195.91 204.95 L1198 208.05 L1200.1 211.36 L1202.21 214.9 L1204.32 218.64 L1206.42 222.61 L1208.51 226.78 L1210.57 231.17 L1212.6 235.78 L1214.6 240.59 L1216.6 245.61 L1218.6 250.85 L1220.6 256.28 L1222.6 261.93 L1224.6 267.77 L1226.6 273.82 L1228.6 280.06 L1230.6 286.5 L1232.6 293.12 L1234.6 299.94 L1236.6 306.94 L1238.59 314.12 L1240.59 321.48 L1242.59 329.02 L1244.59 336.72 L1246.59 344.59 L1248.59 352.62 L1250.59 360.81 L1252.59 369.15 L1254.59 377.64 L1256.58 386.27 L1258.58 395.05 L1260.58 403.95 L1262.58 412.99 L1264.58 422.15 L1266.58 431.43 L1268.57 440.83 L1270.57 450.33 L1272.57 459.94 L1274.57 469.65 L1276.57 479.46 L1278.56 489.35 L1280.56 499.33 L1282.56 509.39 L1284.56 519.53 L1286.55 529.73 L1288.55 540 L1290.55 550.33 L1292.55 560.71 L1294.54 571.15 L1296.54 581.63 L1298.54 592.15 L1300.53 602.71 L1302.53 613.3 L1304.53 623.92 L1306.52 634.56 L1308.52 645.22 L1310.52 655.9 L1312.51 666.58 L1314.51 677.27 L1316.51 687.96 L1318.5 698.65 L1320.49 709.33 L1322.48 720 L1324.46 730.66 L1326.44 741.29 L1328.41 751.91 L1330.38 762.49 L1332.35 773.05 L1334.31 783.57 L1336.27 794.06 L1338.24 804.5 L1340.2 814.9 L1342.16 825.25 L1344.13 835.55 L1346.09 845.8 L1348.07 855.98 L1350.04 866.11 L1352.02 876.16 L1354.01 886.16 L1356 896.07 L1358 905.92 L1360 915.69 L1362.01 925.37 L1364.02 934.98 L1366.03 944.49 L1368.04 953.92 L1370.06 963.26 L1372.07 972.5 L1374.09 981.64 L1376.12 990.69 L1378.14 999.63 L1380.16 1008.47 L1382.19 1017.2 L1384.22 1025.82 L1386.25 1034.34 L1388.28 1042.74 L1390.31 1051.02 L1392.34 1059.18 L1394.38 1067.23 L1396.41 1075.16 L1398.44 1082.96 L1400.48 1090.64 L1402.51 1098.2 L1404.55 1105.63 L1406.58 1112.93 L1408.62 1120.1 L1410.65 1127.14 L1412.69 1134.05 L1414.72 1140.83 L1416.75 1147.48 L1418.79 1154 L1420.82 1160.38 L1422.85 1166.62 L1424.88 1172.74 L1426.91 1178.72 L1428.93 1184.56 L1430.96 1190.27 L1432.98 1195.85 L1435.01 1201.3 L1437.03 1206.61 L1439.05 1211.79 L1441.07 1216.84 L1443.1 1221.75 L1445.12 1226.54 L1447.15 1231.2 L1449.17 1235.72 L1451.2 1240.13 L1453.22 1244.4 L1455.25 1248.55 L1457.27 1252.58 L1459.3 1256.49 L1461.32 1260.28 L1463.34 1263.94 L1465.36 1267.5 L1467.38 1270.93 L1469.4 1274.26 L1471.42 1277.47 L1473.44 1280.57 L1475.45 1283.57 L1477.46 1286.46 L1479.48 1289.25 L1481.49 1291.94 L1483.49 1294.52 L1485.5 1297.02 L1487.5 1299.41 L1489.5 1301.72 L1491.5 1303.93 L1493.49 1306.06 L1495.48 1308.1 L1497.47 1310.06 L1499.46 1311.94 L1501.45 1313.74 L1503.43 1315.46 L1505.41 1317.11 L1507.39 1318.69 L1509.36 1320.2 L1511.33 1321.64 L1513.31 1323.01 L1515.27 1324.33 L1517.24 1325.58 L1519.2 1326.77 L1521.17 1327.91 L1523.13 1328.99 L1525.08 1330.02 L1527.04 1331 L1528.99 1331.93 L1530.95 1332.81 L1532.89 1333.65 L1534.84 1334.45 L1536.79 1335.2 L1538.73 1335.92 L1540.67 1336.59 L1542.61 1337.23 L1544.55 1337.84 L1546.49 1338.41 L1548.42 1338.95 L1550.36 1339.46 L1552.29 1339.94 L1554.22 1340.4 L1556.15 1340.82 L1558.07 1341.23 L1560 1341.61 L1562 1341.96 L1564 1342.3 L1566 1342.62 L1568 1342.91 L1570 1343.19 L1572 1343.45 L1574 1343.7 L1576 1343.93 L1578 1344.14 L1580 1344.34 L1582 1344.53 L1584 1344.71 L1586 1344.87 L1588 1345.02 L1590 1345.17 L1592 1345.3 L1594 1345.43 L1596 1345.54 L1598 1345.65 L1600 1345.75 L1602 1345.84 L1604 1345.93 L1606 1346.01 L1608 1346.09 L1610 1346.16 L1612 1346.22 L1614 1346.28 L1616 1346.34 L1618 1346.39 L1620 1346.44 L1622 1346.48 L1624 1346.52 L1626 1346.56 L1628 1346.6 L1630 1346.63 L1632 1346.66 L1634 1346.69 L1636 1346.71 L1638 1346.74 L1640 1346.76 L1642 1346.78 L1644 1346.8 L1646 1346.81 L1648 1346.83 L1650 1346.84 L1652 1346.86 L1654 1346.87 L1656 1346.88 L1658 1346.89 L1660 1346.9 L1662 1346.91 L1664 1346.91 L1666 1346.92 L1668 1346.93 L1670 1346.93 L1672 1346.94 L1674 1346.95 L1676 1346.95 L1678 1346.95 L1680 1346.96 L1682 1346.96 L1684 1346.97 L1686 1346.97 L1688 1346.97 L1690 1346.97 L1692 1346.98 L1694 1346.98 L1696 1346.98 L1698 1346.98 L1700 1346.98 L1702 1346.98 L1704 1346.99 L1706 1346.99 L1708 1346.99 L1710 1346.99 L1712 1346.99 L1714 1346.99 L1716 1346.99 L1718 1346.99 L1720 1346.99 L1722 1346.99 L1724 1346.99 L1726 1346.99 L1728 1347 L1730 1347 L1732 1347 L1734 1347 L1736 1347 L1738 1347 L1740 1347 L1742 1347 L1744 1347 L1746 1347 L1748 1347 L1750 1347 L1752 1347 L1754 1347 L1756 1347 L1758 1347 L1760 1347 L1762 1347 L1764 1347 L1766 1347 L1768 1347 L1770 1347 L1772 1347 L1774 1347 L1776 1347 L1778 1347 L1780 1347 L1782 1347 L1784 1347 L1786 1347 L1788 1347 L1790 1347 L1792 1347 L1794 1347 L1796 1347 L1798 1347 L1800 1347 L1802 1347 L1804 1347 L1806 1347 L1808 1347 L1810 1347 L1812 1347 L1814 1347 L1816 1347 L1818 1347 L1820 1347 L1822 1347 L1824 1347 L1826 1347 L1828 1347 L1830 1347 L1832 1347 L1834 1347 L1836 1347 L1838 1347 L1840 1347 L1842 1347 L1844 1347 L1846 1347 L1848 1347 L1850 1347 L1852 1347 L1854 1347 L1856 1347 L1858 1347 L1860 1347 L1862 1347 L1864 1347 L1866 1347 L1868 1347 L1870 1347 L1872 1347 L1874 1347 L1876 1347 L1878 1347 L1880 1347 L1882 1347 L1884 1347 L1886 1347 L1888 1347 L1890 1347 L1892 1347 L1894 1347 L1896 1347 L1898 1347 L1900 1347 L1902 1347 L1904 1347 L1906 1347 L1908 1347 L1910 1347 L1912 1347 L1914 1347 L1916 1347 L1918 1347 L1920 1347 L1922 1347 L1924 1347 L1926 1347 L1928 1347 L1930 1347 L1932 1347 L1934 1347 L1936 1347 L1938 1347 L1940 1347 L1942 1347 L1944 1347 L1946 1347 L1948 1347 L1950 1347 L1952 1347 L1954 1347 L1956 1347 L1958 1347 L1960 1347 L1962 1347 L1964 1347 L1966 1347 L1968 1347 L1970 1347 L1972 1347 L1974 1347 L1976 1347 L1978 1347 L1980 1347 L1982 1347 L1984 1347 L1986 1347 L1988 1347 L1990 1347" fill="none" stroke="#0000ff" stroke-width="3.3" stroke-linejoin="round"/>
<path d="M388 1347 L390 1347 L392 1347 L394 1347 L396 1347 L398 1347 L400 1347 L402 1347 L404 1347 L406 1347 L408 1347 L410 1347 L412 1347 L414 1347 L416 1347 L418 1347 L420 1347 L422 1347 L424 1347 L426 1347 L428 1347 L430 1347 L432 1347 L434 1347 L436 1347 L438 1347 L440 1347 L442 1347 L444 1347 L446 1347 L448 1347 L450 1347 L452 1347 L454 1347 L456 1347 L458 1347 L460 1347 L462 1347 L464 1347 L466 1347 L468 1347 L470 1347 L472 1347 L474 1347 L476 1347 L478 1347 L480 1347 L482 1347 L484 1347 L486 1347 L488 1347 L490 1347 L492 1347 L494 1347 L496 1347 L498 1347 L500 1347 L502 1347 L504 1347 L506 1347 L508 1347 L510 1347 L512 1347 L514 1347 L516 1347 L518 1347 L520 1347 L522 1347 L524 1347 L526 1347 L528 1347 L530 1347 L532 1347 L534 1347 L536 1347 L538 1347 L540 1347 L542 1347 L544 1347 L546 1347 L548 1347 L550 1347 L552 1347 L554 1347 L556 1347 L558 1347 L560 1347 L562 1347 L564 1347 L566 1347 L568 1347 L570 1347 L572 1347 L574 1347 L576 1347 L578 1347 L580 1347 L582 1347 L584 1347 L586 1347 L588 1347 L590 1347 L592 1347 L594 1347 L596 1347 L598 1347 L600 1347 L602 1347 L604 1347 L606 1347 L608 1347 L610 1347 L612 1347 L614 1347 L616 1347 L618 1347 L620 1347 L622 1347 L624 1347 L626 1347 L628 1347 L630 1347 L632 1347 L634 1347 L636 1347 L638 1347 L640 1347 L642 1347 L644 1347 L646 1347 L648 1347 L650 1347 L652 1347 L654 1347 L656 1347 L658 1347 L660 1347 L662 1347 L664 1347 L666 1347 L668 1347 L670 1347 L672 1347 L674 1347 L676 1347 L678 1347 L680 1347 L682 1347 L684 1347 L686 1347 L688 1347 L690 1347 L692 1347 L694 1347 L696 1347 L698 1347 L700 1347 L702 1347 L704 1347 L706 1347 L708 1347 L710 1347 L712 1347 L714 1347 L716 1347 L718 1347 L720 1347 L722 1347 L724 1347 L726 1347 L728 1347 L730 1347 L732 1347 L734 1347 L736 1347 L738 1347 L740 1347 L742 1347 L744 1347 L746 1347 L748 1347 L750 1347 L752 1347 L754 1347 L756 1347 L758 1347 L760 1347 L762 1347 L764 1347 L766 1347 L768 1347 L770 1347 L772 1347 L774 1347 L776 1347 L778 1347 L780 1347 L782 1347 L784 1347 L786 1347 L788 1347 L790 1347 L792 1347 L794 1347 L796 1347 L798 1347 L800 1347 L802 1347 L804 1347 L806 1347 L808 1347 L810 1347 L812 1347 L814 1347 L816 1347 L818 1347 L820 1347 L822 1347 L824 1347 L826 1347 L828 1347 L830 1347 L832 1347 L834 1347 L836 1347 L838 1347 L840 1347 L842 1347 L844 1347 L846 1347 L848 1347 L850 1347 L852 1347 L854 1347 L856 1347 L858 1347 L860 1347 L862 1347 L864 1347 L866 1347 L868 1347 L870 1347 L872 1347 L874 1347 L876 1347 L878 1347 L880 1347 L882 1347 L884 1347 L886 1347 L888 1347 L890 1347 L892 1347 L894 1347 L896 1347 L898 1347 L900 1347 L902 1347 L904 1347 L906 1347 L908 1347 L910 1347 L912 1347 L914 1347 L916 1347 L918 1347 L920 1347 L922 1347 L924 1347 L926 1347 L928 1347 L930 1347 L932 1347 L934 1347 L936 1347 L938 1347 L940 1347 L942 1347 L944 1347 L946 1347 L948 1347 L950 1347 L952 1347 L954 1347 L956 1347 L958 1347 L960 1347 L962 1347 L964 1347 L966 1347 L968 1347 L970 1347 L972 1347 L974 1347 L976 1347 L978 1347 L980 1347 L982 1347 L984 1347 L986 1347 L988 1347 L990 1347 L992 1347 L994 1347 L996 1347 L998 1347 L1000 1347 L1002 1347 L1004 1347 L1006 1347 L1008 1347 L1010 1347 L1012 1347 L1014 1347 L1016 1347 L1018 1347 L1020 1347 L1022 1347 L1024 1347 L1026 1347 L1028 1347 L1030 1347 L1032 1347 L1034 1347 L1036 1347 L1038 1347 L1040 1347 L1042 1347 L1044 1347 L1046 1347 L1048 1347 L1050 1347 L1052 1347 L1054 1347 L1056 1347 L1058 1347 L1060 1347 L1062 1347 L1064 1347 L1066 1347 L1068 1347 L1070 1347 L1072 1347 L1074 1347 L1076 1346.99 L1078 1346.99 L1080 1346.99 L1082 1346.99 L1084 1346.99 L1086 1346.99 L1088 1346.99 L1090 1346.99 L1092 1346.99 L1094 1346.99 L1096 1346.99 L1098 1346.98 L1100 1346.98 L1102 1346.98 L1104 1346.98 L1106 1346.98 L1108 1346.98 L1110 1346.97 L1112 1346.97 L1114 1346.97 L1116 1346.96 L1118 1346.96 L1120 1346.96 L1122 1346.95 L1124 1346.95 L1126 1346.94 L1128 1346.94 L1130 1346.93 L1132 1346.93 L1134 1346.92 L1136 1346.91 L1138 1346.91 L1140 1346.9 L1142 1346.89 L1144 1346.88 L1146 1346.87 L1148 1346.86 L1150 1346.84 L1152 1346.83 L1154 1346.81 L1156 1346.8 L1158 1346.78 L1160 1346.76 L1162 1346.74 L1164 1346.72 L1166 1346.7 L1168 1346.67 L1170 1346.65 L1172 1346.62 L1174 1346.58 L1176 1346.55 L1178 1346.51 L1180 1346.48 L1182 1346.43 L1184 1346.39 L1186 1346.34 L1188 1346.29 L1190 1346.23 L1192 1346.17 L1194 1346.11 L1196 1346.04 L1198 1345.97 L1200 1345.89 L1202 1345.8 L1204 1345.71 L1206 1345.62 L1208 1345.51 L1210 1345.4 L1212 1345.29 L1214 1345.16 L1216 1345.03 L1218 1344.89 L1220 1344.73 L1222 1344.57 L1224 1344.4 L1226 1344.22 L1228 1344.02 L1230 1343.82 L1232 1343.6 L1234 1343.36 L1236 1343.12 L1238 1342.85 L1240 1342.58 L1242 1342.28 L1244 1341.97 L1246 1341.64 L1248 1341.28 L1250 1340.91 L1252.04 1340.52 L1254.08 1340.1 L1256.11 1339.66 L1258.15 1339.2 L1260.18 1338.71 L1262.22 1338.19 L1264.25 1337.65 L1266.29 1337.07 L1268.32 1336.47 L1270.35 1335.83 L1272.38 1335.16 L1274.41 1334.45 L1276.44 1333.7 L1278.47 1332.92 L1280.49 1332.1 L1282.52 1331.24 L1284.54 1330.33 L1286.57 1329.38 L1288.59 1328.38 L1290.61 1327.33 L1292.63 1326.23 L1294.65 1325.08 L1296.67 1323.88 L1298.69 1322.62 L1300.71 1321.3 L1302.72 1319.92 L1304.73 1318.48 L1306.75 1316.97 L1308.76 1315.4 L1310.77 1313.76 L1312.78 1312.05 L1314.78 1310.27 L1316.79 1308.41 L1318.79 1306.47 L1320.8 1304.46 L1322.8 1302.36 L1324.8 1300.18 L1326.8 1297.91 L1328.8 1295.55 L1330.8 1293.1 L1332.79 1290.56 L1334.79 1287.92 L1336.79 1285.18 L1338.78 1282.34 L1340.78 1279.4 L1342.77 1276.36 L1344.76 1273.21 L1346.76 1269.94 L1348.75 1266.57 L1350.74 1263.08 L1352.73 1259.48 L1354.72 1255.76 L1356.72 1251.92 L1358.71 1247.96 L1360.7 1243.87 L1362.69 1239.66 L1364.68 1235.32 L1366.67 1230.86 L1368.66 1226.26 L1370.65 1221.53 L1372.64 1216.67 L1374.62 1211.67 L1376.61 1206.54 L1378.6 1201.27 L1380.59 1195.86 L1382.58 1190.31 L1384.56 1184.63 L1386.54 1178.8 L1388.52 1172.84 L1390.5 1166.73 L1392.48 1160.48 L1394.45 1154.1 L1396.42 1147.57 L1398.39 1140.9 L1400.36 1134.09 L1402.33 1127.14 L1404.3 1120.05 L1406.27 1112.82 L1408.24 1105.46 L1410.21 1097.96 L1412.17 1090.32 L1414.14 1082.55 L1416.11 1074.65 L1418.07 1066.62 L1420.04 1058.47 L1422.01 1050.18 L1423.98 1041.78 L1425.95 1033.25 L1427.92 1024.61 L1429.89 1015.85 L1431.86 1006.99 L1433.84 998.01 L1435.82 988.93 L1437.79 979.74 L1439.77 970.46 L1441.76 961.09 L1443.74 951.62 L1445.73 942.07 L1447.72 932.44 L1449.71 922.74 L1451.7 912.96 L1453.7 903.11 L1455.7 893.21 L1457.71 883.24 L1459.72 873.23 L1461.73 863.17 L1463.74 853.07 L1465.76 842.93 L1467.78 832.76 L1469.8 822.57 L1471.82 812.36 L1473.85 802.14 L1475.87 791.92 L1477.89 781.69 L1479.91 771.47 L1481.93 761.27 L1483.95 751.08 L1485.97 740.92 L1487.98 730.79 L1489.99 720.7 L1492 710.66 L1494 700.66 L1496 690.73 L1497.98 680.86 L1499.97 671.06 L1501.94 661.34 L1503.91 651.71 L1505.87 642.17 L1507.83 632.73 L1509.78 623.39 L1511.73 614.16 L1513.67 605.06 L1515.61 596.08 L1517.55 587.23 L1519.48 578.51 L1521.42 569.95 L1523.35 561.53 L1525.28 553.27 L1527.21 545.18 L1529.14 537.25 L1531.07 529.51 L1533 521.94 L1534.93 514.56 L1536.87 507.38 L1538.8 500.4 L1540.74 493.62 L1542.69 487.05 L1544.63 480.71 L1546.58 474.58 L1548.54 468.68 L1550.5 463.01 L1552.47 457.58 L1554.44 452.4 L1556.42 447.46 L1558.41 442.77 L1560.4 438.33 L1562.41 434.16 L1564.44 430.25 L1566.5 426.61 L1568.58 423.23 L1570.67 420.14 L1572.77 417.31 L1574.88 414.77 L1576.99 412.51 L1579.1 410.53 L1581.21 408.84 L1583.3 407.44 L1585.38 406.33 L1587.44 405.5 L1589.49 404.97 L1591.5 404.73 L1593.5 404.79 L1595.49 405.13 L1597.47 405.76 L1599.45 406.69 L1601.43 407.9 L1603.4 409.41 L1605.37 411.19 L1607.34 413.27 L1609.31 415.62 L1611.29 418.25 L1613.26 421.15 L1615.24 424.33 L1617.22 427.78 L1619.21 431.48 L1621.2 435.45 L1623.2 439.67 L1625.2 444.13 L1627.21 448.84 L1629.21 453.79 L1631.22 458.96 L1633.22 464.36 L1635.23 469.98 L1637.25 475.81 L1639.26 481.84 L1641.27 488.07 L1643.29 494.49 L1645.3 501.1 L1647.32 507.88 L1649.34 514.82 L1651.36 521.93 L1653.38 529.18 L1655.4 536.59 L1657.42 544.13 L1659.44 551.8 L1661.47 559.6 L1663.49 567.51 L1665.52 575.54 L1667.54 583.66 L1669.57 591.89 L1671.6 600.2 L1673.62 608.6 L1675.65 617.08 L1677.68 625.63 L1679.71 634.25 L1681.74 642.94 L1683.77 651.68 L1685.8 660.48 L1687.82 669.33 L1689.85 678.22 L1691.88 687.16 L1693.91 696.14 L1695.94 705.15 L1697.97 714.2 L1700 723.27 L1702.03 732.38 L1704.06 741.5 L1706.09 750.65 L1708.12 759.82 L1710.16 769 L1712.19 778.2 L1714.23 787.41 L1716.27 796.63 L1718.31 805.85 L1720.35 815.07 L1722.39 824.29 L1724.44 833.51 L1726.48 842.72 L1728.53 851.92 L1730.58 861.1 L1732.63 870.26 L1734.68 879.4 L1736.73 888.51 L1738.79 897.59 L1740.84 906.63 L1742.91 915.63 L1744.97 924.59 L1747.05 933.49 L1749.12 942.33 L1751.2 951.11 L1753.28 959.83 L1755.37 968.47 L1757.46 977.03 L1759.54 985.51 L1761.63 993.9 L1763.72 1002.2 L1765.82 1010.4 L1767.92 1018.49 L1770.03 1026.48 L1772.15 1034.36 L1774.26 1042.13 L1776.38 1049.77 L1778.5 1057.29 L1780.61 1064.69 L1782.72 1071.96 L1784.83 1079.1 L1786.93 1086.11 L1789.02 1092.98 L1791.1 1099.71 L1793.17 1106.31 L1795.24 1112.77 L1797.31 1119.1 L1799.37 1125.28 L1801.43 1131.33 L1803.49 1137.24 L1805.54 1143.02 L1807.59 1148.66 L1809.64 1154.16 L1811.69 1159.53 L1813.74 1164.78 L1815.79 1169.89 L1817.84 1174.87 L1819.89 1179.73 L1821.93 1184.47 L1823.96 1189.09 L1825.99 1193.59 L1828 1197.98 L1830 1202.25 L1831.99 1206.42 L1833.96 1210.48 L1835.93 1214.43 L1837.88 1218.29 L1839.83 1222.04 L1841.78 1225.7 L1843.72 1229.27 L1845.65 1232.74 L1847.58 1236.13 L1849.52 1239.43 L1851.44 1242.65 L1853.35 1245.78 L1855.23 1248.84 L1857.1 1251.82 L1858.96 1254.73 L1860.81 1257.56 L1862.65 1260.32 L1864.49 1263.02 L1866.32 1265.64 L1868.17 1268.2 L1870.01 1270.69 L1871.87 1273.13 L1873.74 1275.5 L1875.62 1277.81 L1877.52 1280.06 L1879.44 1282.26 L1881.36 1284.4 L1883.28 1286.48 L1885.2 1288.51 L1887.12 1290.49 L1889.04 1292.42 L1890.96 1294.29 L1892.88 1296.12 L1894.81 1297.89 L1896.74 1299.62 L1898.67 1301.3 L1900.6 1302.94 L1902.54 1304.53 L1904.47 1306.08 L1906.42 1307.58 L1908.36 1309.04 L1910.31 1310.46 L1912.26 1311.84 L1914.21 1313.17 L1916.17 1314.47 L1918.13 1315.73 L1920.1 1316.95 L1922.07 1318.13 L1924.04 1319.27 L1926.02 1320.38 L1928.01 1321.46 L1930 1322.5 L1932 1323.5 L1934 1324.48 L1936 1325.42 L1938 1326.33 L1940 1327.2 L1942 1328.05 L1944 1328.87 L1946 1329.66 L1948 1330.42 L1950 1331.15 L1952 1331.86 L1954 1332.54 L1956 1333.2 L1958 1333.83 L1960 1334.44 L1962 1335.02 L1964 1335.58 L1966 1336.12 L1968 1336.64 L1970 1337.14 L1972 1337.62 L1974 1338.07 L1976 1338.51 L1978 1338.93 L1980 1339.34 L1982 1339.72 L1984 1340.09 L1986 1340.44 L1988 1340.78 L1990 1341.1" fill="none" stroke="#008080" stroke-width="2.9" stroke-linejoin="round"/>
<path d="M392.8 120.8H535.2" stroke="#ff0000" stroke-width="8.0"/>
<path d="M392.8 205.4H535.2" stroke="#0000ff" stroke-width="6.3"/>
<path d="M392.8 459.9H535.2" stroke="#008080" stroke-width="6.6"/>
<path d="M101.4 610V925.2" stroke="#000" stroke-width="3.6"/>
<text transform="matrix(0.8528 0 0 0.8618 221.00 96.51)" font-size="100">0.8</text>
<text transform="matrix(0.8474 0 0 0.8618 221.02 415.91)" font-size="100">0.6</text>
<text transform="matrix(0.8367 0 0 0.8618 221.06 735.31)" font-size="100">0.4</text>
<text transform="matrix(0.8657 0 0 0.8618 220.95 1054.71)" font-size="100">0.2</text>
<text transform="matrix(0.8871 0 0 0.8726 285.17 1374.93)" font-size="100">0</text>
<text transform="matrix(0.8576 0 0 0.8605 301.93 1550.01)" font-size="100">3.5</text>
<text transform="matrix(0.8581 0 0 0.8867 559.18 1551.30)" font-size="100">4</text>
<text transform="matrix(0.8429 0 0 0.8669 750.81 1550.00)" font-size="100">4.5</text>
<text transform="matrix(0.9540 0 0 0.8767 1003.11 1550.42)" font-size="100">5</text>
<text transform="matrix(0.8625 0 0 0.8701 1195.24 1549.99)" font-size="100">5.5</text>
<text transform="matrix(0.8912 0 0 0.8669 1452.11 1550.43)" font-size="100">6</text>
<text transform="matrix(0.8514 0 0 0.8605 1643.88 1550.01)" font-size="100">6.5</text>
<text transform="matrix(0.9630 0 0 0.8901 1897.64 1551.30)" font-size="100">7</text>
<text transform="matrix(0.9147 0 0 0.9209 1056.27 1669.10)" font-size="100">log</text>
<text transform="matrix(0.8764 0 0 0.8794 1193.60 1665.30)" font-size="100" font-style="italic">M</text>
<text transform="matrix(0.5591 0 0 0.5298 1271.70 1675.07)" font-size="100" font-style="italic">w</text>
<text transform="matrix(0.5285 0 0 0.5708 574.39 135.43)" font-size="100" font-style="italic">raw</text>
<text transform="matrix(0.5436 0 0 0.6148 682.37 135.39)" font-size="100" font-style="italic">extract</text>
<text transform="matrix(0.5730 0 0 0.5649 570.72 223.20)" font-size="100" font-style="italic">M</text>
<text transform="matrix(0.5638 0 0 0.5149 622.99 236.49)" font-size="100" font-style="italic">w</text>
<text transform="matrix(0.5295 0 0 0.3950 684.49 229.93)" font-size="100" stroke="#000" stroke-width="3.54">=</text>
<text transform="matrix(0.5623 0 0 0.5719 759.47 232.33)" font-size="100">200</text>
<text transform="matrix(0.6089 0 0 0.5645 855.58 232.34)" font-size="100">kDa</text>
<text transform="matrix(0.5730 0 0 0.5725 571.72 301.00)" font-size="100" font-style="italic">M</text>
<text transform="matrix(0.6036 0 0 0.5426 623.39 314.50)" font-size="100" font-style="italic">n</text>
<text transform="matrix(0.5295 0 0 0.3950 684.49 299.73)" font-size="100" stroke="#000" stroke-width="3.54">=</text>
<text transform="matrix(0.5549 0 0 0.5600 760.54 303.24)" font-size="100">160</text>
<text transform="matrix(0.6089 0 0 0.5645 855.58 303.24)" font-size="100">kDa</text>
<text transform="matrix(0.5339 0 0 0.5627 571.47 376.76)" font-size="100" font-style="italic">PDI</text>
<text transform="matrix(0.5295 0 0 0.3950 684.49 374.23)" font-size="100" stroke="#000" stroke-width="3.54">=</text>
<text transform="matrix(0.5519 0 0 0.5565 746.77 376.77)" font-size="100">1.26</text>
<text transform="matrix(0.5730 0 0 0.5649 570.72 477.30)" font-size="100" font-style="italic">M</text>
<text transform="matrix(0.5638 0 0 0.5170 622.99 491.18)" font-size="100" font-style="italic">w</text>
<text transform="matrix(0.5295 0 0 0.3950 684.49 485.93)" font-size="100" stroke="#000" stroke-width="3.54">=</text>
<text transform="matrix(0.5488 0 0 0.5748 734.00 487.13)" font-size="100">1780</text>
<text transform="matrix(0.6089 0 0 0.5645 855.58 487.14)" font-size="100">kDa</text>
<text transform="matrix(0.5730 0 0 0.5771 571.72 557.60)" font-size="100" font-style="italic">M</text>
<text transform="matrix(0.6036 0 0 0.5383 623.39 570.30)" font-size="100" font-style="italic">n</text>
<text transform="matrix(0.5295 0 0 0.3950 684.49 556.03)" font-size="100" stroke="#000" stroke-width="3.54">=</text>
<text transform="matrix(0.5488 0 0 0.5719 734.00 557.63)" font-size="100">1580</text>
<text transform="matrix(0.6089 0 0 0.5645 855.58 557.64)" font-size="100">kDa</text>
<text transform="matrix(0.5339 0 0 0.5703 571.47 630.76)" font-size="100" font-style="italic">PDI</text>
<text transform="matrix(0.5295 0 0 0.3950 684.49 628.83)" font-size="100" stroke="#000" stroke-width="3.54">=</text>
<text transform="matrix(0.5611 0 0 0.5565 733.89 630.27)" font-size="100">1.12</text>
<text transform="matrix(0 -0.6709 0.6879 0 87.11 809.51)" font-size="100" font-style="italic">d</text>
<text transform="matrix(0 -0.6976 0.7149 0 87.49 774.64)" font-size="100" font-style="italic">w</text>
<text transform="matrix(0 -0.6561 0.7021 0 163.60 917.17)" font-size="100" font-style="italic">d</text>
<text transform="matrix(0 -0.4800 0.5945 0 155.97 870.68)" font-size="100" font-style="italic">(</text>
<text transform="matrix(0 -0.6527 0.7460 0 166.35 851.43)" font-size="100" font-style="italic">log</text>
<text transform="matrix(0 -0.7180 0.7099 0 162.90 753.50)" font-size="100" font-style="italic">M</text>
<text transform="matrix(0 -0.4362 0.4404 0 170.86 689.09)" font-size="100" font-style="italic">w</text>
<text transform="matrix(0 -0.5600 0.6099 0 149.54 635.44)" font-size="100" font-style="italic">)</text>
</g>
</svg>
</body>
</html>
